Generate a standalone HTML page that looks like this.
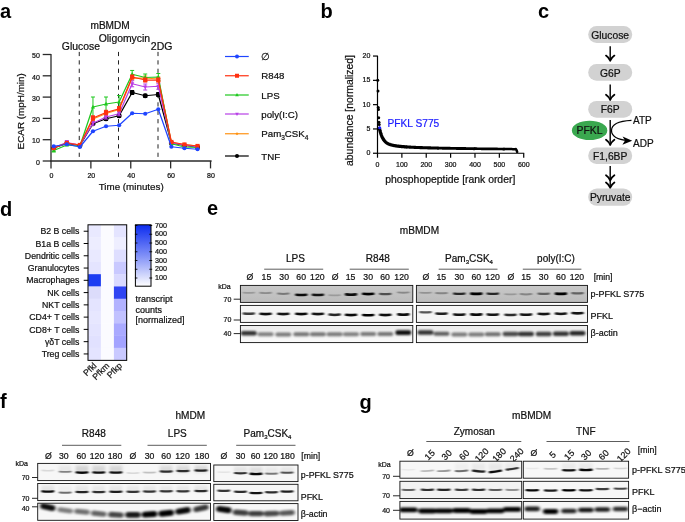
<!DOCTYPE html>
<html><head><meta charset="utf-8"><title>Figure</title>
<style>html,body{margin:0;padding:0;background:#fff;}body{width:685px;height:522px;overflow:hidden;font-family:"Liberation Sans", Arial, sans-serif;}svg{display:block}</style>
</head><body>
<svg width="685" height="522" viewBox="0 0 685 522" font-family='"Liberation Sans", Arial, sans-serif'><text x="0.00" y="17.50" font-size="20" text-anchor="start" font-weight="bold" fill="#000" stroke="#000" stroke-width="0" >a</text>
<text x="320.50" y="17.70" font-size="20" text-anchor="start" font-weight="bold" fill="#000" stroke="#000" stroke-width="0" >b</text>
<text x="538.00" y="17.60" font-size="20" text-anchor="start" font-weight="bold" fill="#000" stroke="#000" stroke-width="0" >c</text>
<text x="0.00" y="215.50" font-size="20" text-anchor="start" font-weight="bold" fill="#000" stroke="#000" stroke-width="0" >d</text>
<text x="207.00" y="214.70" font-size="20" text-anchor="start" font-weight="bold" fill="#000" stroke="#000" stroke-width="0" >e</text>
<text x="0.00" y="408.00" font-size="20" text-anchor="start" font-weight="bold" fill="#000" stroke="#000" stroke-width="0" >f</text>
<text x="359.50" y="409.00" font-size="20" text-anchor="start" font-weight="bold" fill="#000" stroke="#000" stroke-width="0" >g</text>
<line x1="51.00" y1="54.00" x2="51.00" y2="161.60" stroke="#2a2a2a" stroke-width="1.3" />
<line x1="50.40" y1="161.00" x2="211.60" y2="161.00" stroke="#2a2a2a" stroke-width="1.3" />
<line x1="42.70" y1="161.00" x2="51.00" y2="161.00" stroke="#2a2a2a" stroke-width="1.3" />
<text x="39.90" y="164.70" font-size="7.0" text-anchor="end" font-weight="normal" fill="#111" stroke="#111" stroke-width="0.22" >0</text>
<line x1="42.70" y1="139.70" x2="51.00" y2="139.70" stroke="#2a2a2a" stroke-width="1.3" />
<text x="39.90" y="143.40" font-size="7.0" text-anchor="end" font-weight="normal" fill="#111" stroke="#111" stroke-width="0.22" >10</text>
<line x1="42.70" y1="118.40" x2="51.00" y2="118.40" stroke="#2a2a2a" stroke-width="1.3" />
<text x="39.90" y="122.10" font-size="7.0" text-anchor="end" font-weight="normal" fill="#111" stroke="#111" stroke-width="0.22" >20</text>
<line x1="42.70" y1="97.10" x2="51.00" y2="97.10" stroke="#2a2a2a" stroke-width="1.3" />
<text x="39.90" y="100.80" font-size="7.0" text-anchor="end" font-weight="normal" fill="#111" stroke="#111" stroke-width="0.22" >30</text>
<line x1="42.70" y1="75.80" x2="51.00" y2="75.80" stroke="#2a2a2a" stroke-width="1.3" />
<text x="39.90" y="79.50" font-size="7.0" text-anchor="end" font-weight="normal" fill="#111" stroke="#111" stroke-width="0.22" >40</text>
<line x1="42.70" y1="54.50" x2="51.00" y2="54.50" stroke="#2a2a2a" stroke-width="1.3" />
<text x="39.90" y="58.20" font-size="7.0" text-anchor="end" font-weight="normal" fill="#111" stroke="#111" stroke-width="0.22" >50</text>
<line x1="51.00" y1="161.00" x2="51.00" y2="168.40" stroke="#2a2a2a" stroke-width="1.3" />
<text x="51.40" y="178.30" font-size="7.0" text-anchor="middle" font-weight="normal" fill="#111" stroke="#111" stroke-width="0.22" >0</text>
<line x1="90.88" y1="161.00" x2="90.88" y2="168.40" stroke="#2a2a2a" stroke-width="1.3" />
<text x="91.28" y="178.30" font-size="7.0" text-anchor="middle" font-weight="normal" fill="#111" stroke="#111" stroke-width="0.22" >20</text>
<line x1="130.76" y1="161.00" x2="130.76" y2="168.40" stroke="#2a2a2a" stroke-width="1.3" />
<text x="131.16" y="178.30" font-size="7.0" text-anchor="middle" font-weight="normal" fill="#111" stroke="#111" stroke-width="0.22" >40</text>
<line x1="170.64" y1="161.00" x2="170.64" y2="168.40" stroke="#2a2a2a" stroke-width="1.3" />
<text x="171.04" y="178.30" font-size="7.0" text-anchor="middle" font-weight="normal" fill="#111" stroke="#111" stroke-width="0.22" >60</text>
<line x1="210.52" y1="161.00" x2="210.52" y2="168.40" stroke="#2a2a2a" stroke-width="1.3" />
<text x="210.92" y="178.30" font-size="7.0" text-anchor="middle" font-weight="normal" fill="#111" stroke="#111" stroke-width="0.22" >80</text>
<text x="131.20" y="189.50" font-size="9.8" text-anchor="middle" font-weight="normal" fill="#111" stroke="#111" stroke-width="0.22" >Time (minutes)</text>
<text transform="translate(24.0,111.3) rotate(-90)" font-size="9.9" text-anchor="middle" fill="#111" stroke="#111" stroke-width="0.22">ECAR (mpH/min)</text>
<text x="110.10" y="29.40" font-size="10.1" text-anchor="middle" font-weight="normal" fill="#111" stroke="#111" stroke-width="0.22" >mBMDM</text>
<text x="61.80" y="49.50" font-size="10.4" text-anchor="start" font-weight="normal" fill="#111" stroke="#111" stroke-width="0.22" >Glucose</text>
<text x="98.70" y="41.50" font-size="10.4" text-anchor="start" font-weight="normal" fill="#111" stroke="#111" stroke-width="0.22" >Oligomycin</text>
<text x="150.80" y="49.50" font-size="10.5" text-anchor="start" font-weight="normal" fill="#111" stroke="#111" stroke-width="0.22" >2DG</text>
<line x1="79.25" y1="51.90" x2="79.25" y2="160.00" stroke="#222" stroke-width="1.0" stroke-dasharray="4.2 4.2"/>
<line x1="118.50" y1="51.90" x2="118.50" y2="160.00" stroke="#222" stroke-width="1.0" stroke-dasharray="4.2 4.2"/>
<line x1="158.00" y1="51.90" x2="158.00" y2="160.00" stroke="#222" stroke-width="1.0" stroke-dasharray="4.2 4.2"/>
<line x1="92.96" y1="122.25" x2="92.96" y2="125.25" stroke="#000" stroke-width="1.0" />
<line x1="90.96" y1="122.25" x2="94.96" y2="122.25" stroke="#000" stroke-width="1.0" />
<line x1="90.96" y1="125.25" x2="94.96" y2="125.25" stroke="#000" stroke-width="1.0" />
<line x1="106.03" y1="117.25" x2="106.03" y2="120.25" stroke="#000" stroke-width="1.0" />
<line x1="104.03" y1="117.25" x2="108.03" y2="117.25" stroke="#000" stroke-width="1.0" />
<line x1="104.03" y1="120.25" x2="108.03" y2="120.25" stroke="#000" stroke-width="1.0" />
<line x1="119.10" y1="114.25" x2="119.10" y2="117.25" stroke="#000" stroke-width="1.0" />
<line x1="117.10" y1="114.25" x2="121.10" y2="114.25" stroke="#000" stroke-width="1.0" />
<line x1="117.10" y1="117.25" x2="121.10" y2="117.25" stroke="#000" stroke-width="1.0" />
<line x1="132.17" y1="90.50" x2="132.17" y2="94.50" stroke="#000" stroke-width="1.0" />
<line x1="130.17" y1="90.50" x2="134.17" y2="90.50" stroke="#000" stroke-width="1.0" />
<line x1="130.17" y1="94.50" x2="134.17" y2="94.50" stroke="#000" stroke-width="1.0" />
<line x1="145.24" y1="94.25" x2="145.24" y2="97.25" stroke="#000" stroke-width="1.0" />
<line x1="143.24" y1="94.25" x2="147.24" y2="94.25" stroke="#000" stroke-width="1.0" />
<line x1="143.24" y1="97.25" x2="147.24" y2="97.25" stroke="#000" stroke-width="1.0" />
<line x1="158.31" y1="92.50" x2="158.31" y2="96.50" stroke="#000" stroke-width="1.0" />
<line x1="156.31" y1="92.50" x2="160.31" y2="92.50" stroke="#000" stroke-width="1.0" />
<line x1="156.31" y1="96.50" x2="160.31" y2="96.50" stroke="#000" stroke-width="1.0" />
<polyline points="53.75,148.00 66.82,143.50 79.89,145.50 92.96,123.75 106.03,118.75 119.10,115.75 132.17,92.50 145.24,95.75 158.31,94.50 171.38,143.00 184.45,145.50 197.52,147.00" fill="none" stroke="#000" stroke-width="1.25" stroke-linejoin="round"/>
<circle cx="53.75" cy="148.00" r="2.5" fill="#000"/>
<circle cx="66.82" cy="143.50" r="2.5" fill="#000"/>
<circle cx="79.89" cy="145.50" r="2.5" fill="#000"/>
<circle cx="92.96" cy="123.75" r="2.5" fill="#000"/>
<circle cx="106.03" cy="118.75" r="2.5" fill="#000"/>
<circle cx="119.10" cy="115.75" r="2.5" fill="#000"/>
<circle cx="132.17" cy="92.50" r="2.5" fill="#000"/>
<circle cx="145.24" cy="95.75" r="2.5" fill="#000"/>
<circle cx="158.31" cy="94.50" r="2.5" fill="#000"/>
<circle cx="171.38" cy="143.00" r="2.5" fill="#000"/>
<circle cx="184.45" cy="145.50" r="2.5" fill="#000"/>
<circle cx="197.52" cy="147.00" r="2.5" fill="#000"/>
<line x1="92.96" y1="117.00" x2="92.96" y2="121.00" stroke="#ff9212" stroke-width="1.0" />
<line x1="90.96" y1="117.00" x2="94.96" y2="117.00" stroke="#ff9212" stroke-width="1.0" />
<line x1="90.96" y1="121.00" x2="94.96" y2="121.00" stroke="#ff9212" stroke-width="1.0" />
<line x1="106.03" y1="111.50" x2="106.03" y2="115.50" stroke="#ff9212" stroke-width="1.0" />
<line x1="104.03" y1="111.50" x2="108.03" y2="111.50" stroke="#ff9212" stroke-width="1.0" />
<line x1="104.03" y1="115.50" x2="108.03" y2="115.50" stroke="#ff9212" stroke-width="1.0" />
<line x1="119.10" y1="107.50" x2="119.10" y2="111.50" stroke="#ff9212" stroke-width="1.0" />
<line x1="117.10" y1="107.50" x2="121.10" y2="107.50" stroke="#ff9212" stroke-width="1.0" />
<line x1="117.10" y1="111.50" x2="121.10" y2="111.50" stroke="#ff9212" stroke-width="1.0" />
<line x1="132.17" y1="76.00" x2="132.17" y2="80.00" stroke="#ff9212" stroke-width="1.0" />
<line x1="130.17" y1="76.00" x2="134.17" y2="76.00" stroke="#ff9212" stroke-width="1.0" />
<line x1="130.17" y1="80.00" x2="134.17" y2="80.00" stroke="#ff9212" stroke-width="1.0" />
<line x1="145.24" y1="76.00" x2="145.24" y2="80.00" stroke="#ff9212" stroke-width="1.0" />
<line x1="143.24" y1="76.00" x2="147.24" y2="76.00" stroke="#ff9212" stroke-width="1.0" />
<line x1="143.24" y1="80.00" x2="147.24" y2="80.00" stroke="#ff9212" stroke-width="1.0" />
<line x1="158.31" y1="77.00" x2="158.31" y2="81.00" stroke="#ff9212" stroke-width="1.0" />
<line x1="156.31" y1="77.00" x2="160.31" y2="77.00" stroke="#ff9212" stroke-width="1.0" />
<line x1="156.31" y1="81.00" x2="160.31" y2="81.00" stroke="#ff9212" stroke-width="1.0" />
<polyline points="53.75,147.50 66.82,143.00 79.89,145.00 92.96,119.00 106.03,113.50 119.10,109.50 132.17,78.00 145.24,78.00 158.31,79.00 171.38,142.50 184.45,144.50 197.52,146.00" fill="none" stroke="#ff9212" stroke-width="1.25" stroke-linejoin="round"/>
<polygon points="53.75,145.60 51.85,147.50 53.75,149.40 55.65,147.50" fill="#ff9212"/>
<polygon points="66.82,141.10 64.92,143.00 66.82,144.90 68.72,143.00" fill="#ff9212"/>
<polygon points="79.89,143.10 77.99,145.00 79.89,146.90 81.79,145.00" fill="#ff9212"/>
<polygon points="92.96,117.10 91.06,119.00 92.96,120.90 94.86,119.00" fill="#ff9212"/>
<polygon points="106.03,111.60 104.13,113.50 106.03,115.40 107.93,113.50" fill="#ff9212"/>
<polygon points="119.10,107.60 117.20,109.50 119.10,111.40 121.00,109.50" fill="#ff9212"/>
<polygon points="132.17,76.10 130.27,78.00 132.17,79.90 134.07,78.00" fill="#ff9212"/>
<polygon points="145.24,76.10 143.34,78.00 145.24,79.90 147.14,78.00" fill="#ff9212"/>
<polygon points="158.31,77.10 156.41,79.00 158.31,80.90 160.21,79.00" fill="#ff9212"/>
<polygon points="171.38,140.60 169.48,142.50 171.38,144.40 173.28,142.50" fill="#ff9212"/>
<polygon points="184.45,142.60 182.55,144.50 184.45,146.40 186.35,144.50" fill="#ff9212"/>
<polygon points="197.52,144.10 195.62,146.00 197.52,147.90 199.42,146.00" fill="#ff9212"/>
<line x1="66.82" y1="140.50" x2="66.82" y2="144.50" stroke="#b83fe6" stroke-width="1.0" />
<line x1="64.82" y1="140.50" x2="68.82" y2="140.50" stroke="#b83fe6" stroke-width="1.0" />
<line x1="64.82" y1="144.50" x2="68.82" y2="144.50" stroke="#b83fe6" stroke-width="1.0" />
<line x1="92.96" y1="121.25" x2="92.96" y2="125.25" stroke="#b83fe6" stroke-width="1.0" />
<line x1="90.96" y1="121.25" x2="94.96" y2="121.25" stroke="#b83fe6" stroke-width="1.0" />
<line x1="90.96" y1="125.25" x2="94.96" y2="125.25" stroke="#b83fe6" stroke-width="1.0" />
<line x1="106.03" y1="115.00" x2="106.03" y2="119.00" stroke="#b83fe6" stroke-width="1.0" />
<line x1="104.03" y1="115.00" x2="108.03" y2="115.00" stroke="#b83fe6" stroke-width="1.0" />
<line x1="104.03" y1="119.00" x2="108.03" y2="119.00" stroke="#b83fe6" stroke-width="1.0" />
<line x1="119.10" y1="111.75" x2="119.10" y2="115.75" stroke="#b83fe6" stroke-width="1.0" />
<line x1="117.10" y1="111.75" x2="121.10" y2="111.75" stroke="#b83fe6" stroke-width="1.0" />
<line x1="117.10" y1="115.75" x2="121.10" y2="115.75" stroke="#b83fe6" stroke-width="1.0" />
<line x1="132.17" y1="80.75" x2="132.17" y2="86.75" stroke="#b83fe6" stroke-width="1.0" />
<line x1="130.17" y1="80.75" x2="134.17" y2="80.75" stroke="#b83fe6" stroke-width="1.0" />
<line x1="130.17" y1="86.75" x2="134.17" y2="86.75" stroke="#b83fe6" stroke-width="1.0" />
<line x1="145.24" y1="84.00" x2="145.24" y2="90.00" stroke="#b83fe6" stroke-width="1.0" />
<line x1="143.24" y1="84.00" x2="147.24" y2="84.00" stroke="#b83fe6" stroke-width="1.0" />
<line x1="143.24" y1="90.00" x2="147.24" y2="90.00" stroke="#b83fe6" stroke-width="1.0" />
<line x1="158.31" y1="83.25" x2="158.31" y2="89.25" stroke="#b83fe6" stroke-width="1.0" />
<line x1="156.31" y1="83.25" x2="160.31" y2="83.25" stroke="#b83fe6" stroke-width="1.0" />
<line x1="156.31" y1="89.25" x2="160.31" y2="89.25" stroke="#b83fe6" stroke-width="1.0" />
<polyline points="53.75,147.50 66.82,142.50 79.89,145.00 92.96,123.25 106.03,117.00 119.10,113.75 132.17,83.75 145.24,87.00 158.31,86.25 171.38,143.00 184.45,145.00 197.52,147.00" fill="none" stroke="#b83fe6" stroke-width="1.25" stroke-linejoin="round"/>
<polygon points="53.75,149.70 51.65,145.90 55.85,145.90" fill="#b83fe6"/>
<polygon points="66.82,144.70 64.72,140.90 68.92,140.90" fill="#b83fe6"/>
<polygon points="79.89,147.20 77.79,143.40 81.99,143.40" fill="#b83fe6"/>
<polygon points="92.96,125.45 90.86,121.65 95.06,121.65" fill="#b83fe6"/>
<polygon points="106.03,119.20 103.93,115.40 108.13,115.40" fill="#b83fe6"/>
<polygon points="119.10,115.95 117.00,112.15 121.20,112.15" fill="#b83fe6"/>
<polygon points="132.17,85.95 130.07,82.15 134.27,82.15" fill="#b83fe6"/>
<polygon points="145.24,89.20 143.14,85.40 147.34,85.40" fill="#b83fe6"/>
<polygon points="158.31,88.45 156.21,84.65 160.41,84.65" fill="#b83fe6"/>
<polygon points="171.38,145.20 169.28,141.40 173.48,141.40" fill="#b83fe6"/>
<polygon points="184.45,147.20 182.35,143.40 186.55,143.40" fill="#b83fe6"/>
<polygon points="197.52,149.20 195.42,145.40 199.62,145.40" fill="#b83fe6"/>
<line x1="53.75" y1="149.00" x2="53.75" y2="152.00" stroke="#1fc81f" stroke-width="1.0" />
<line x1="51.75" y1="149.00" x2="55.75" y2="149.00" stroke="#1fc81f" stroke-width="1.0" />
<line x1="51.75" y1="152.00" x2="55.75" y2="152.00" stroke="#1fc81f" stroke-width="1.0" />
<line x1="92.96" y1="97.00" x2="92.96" y2="117.00" stroke="#1fc81f" stroke-width="1.0" />
<line x1="90.96" y1="97.00" x2="94.96" y2="97.00" stroke="#1fc81f" stroke-width="1.0" />
<line x1="90.96" y1="117.00" x2="94.96" y2="117.00" stroke="#1fc81f" stroke-width="1.0" />
<line x1="106.03" y1="97.00" x2="106.03" y2="111.00" stroke="#1fc81f" stroke-width="1.0" />
<line x1="104.03" y1="97.00" x2="108.03" y2="97.00" stroke="#1fc81f" stroke-width="1.0" />
<line x1="104.03" y1="111.00" x2="108.03" y2="111.00" stroke="#1fc81f" stroke-width="1.0" />
<line x1="119.10" y1="95.50" x2="119.10" y2="108.50" stroke="#1fc81f" stroke-width="1.0" />
<line x1="117.10" y1="95.50" x2="121.10" y2="95.50" stroke="#1fc81f" stroke-width="1.0" />
<line x1="117.10" y1="108.50" x2="121.10" y2="108.50" stroke="#1fc81f" stroke-width="1.0" />
<line x1="132.17" y1="70.45" x2="132.17" y2="78.05" stroke="#1fc81f" stroke-width="1.0" />
<line x1="130.17" y1="70.45" x2="134.17" y2="70.45" stroke="#1fc81f" stroke-width="1.0" />
<line x1="130.17" y1="78.05" x2="134.17" y2="78.05" stroke="#1fc81f" stroke-width="1.0" />
<line x1="145.24" y1="74.00" x2="145.24" y2="81.00" stroke="#1fc81f" stroke-width="1.0" />
<line x1="143.24" y1="74.00" x2="147.24" y2="74.00" stroke="#1fc81f" stroke-width="1.0" />
<line x1="143.24" y1="81.00" x2="147.24" y2="81.00" stroke="#1fc81f" stroke-width="1.0" />
<line x1="158.31" y1="73.50" x2="158.31" y2="80.50" stroke="#1fc81f" stroke-width="1.0" />
<line x1="156.31" y1="73.50" x2="160.31" y2="73.50" stroke="#1fc81f" stroke-width="1.0" />
<line x1="156.31" y1="80.50" x2="160.31" y2="80.50" stroke="#1fc81f" stroke-width="1.0" />
<polyline points="53.75,150.50 66.82,145.00 79.89,146.25 92.96,107.00 106.03,104.00 119.10,102.00 132.17,74.25 145.24,77.50 158.31,77.00 171.38,143.75 184.45,147.00 197.52,147.50" fill="none" stroke="#1fc81f" stroke-width="1.25" stroke-linejoin="round"/>
<polygon points="53.75,148.30 51.65,152.10 55.85,152.10" fill="#1fc81f"/>
<polygon points="66.82,142.80 64.72,146.60 68.92,146.60" fill="#1fc81f"/>
<polygon points="79.89,144.05 77.79,147.85 81.99,147.85" fill="#1fc81f"/>
<polygon points="92.96,104.80 90.86,108.60 95.06,108.60" fill="#1fc81f"/>
<polygon points="106.03,101.80 103.93,105.60 108.13,105.60" fill="#1fc81f"/>
<polygon points="119.10,99.80 117.00,103.60 121.20,103.60" fill="#1fc81f"/>
<polygon points="132.17,72.05 130.07,75.85 134.27,75.85" fill="#1fc81f"/>
<polygon points="145.24,75.30 143.14,79.10 147.34,79.10" fill="#1fc81f"/>
<polygon points="158.31,74.80 156.21,78.60 160.41,78.60" fill="#1fc81f"/>
<polygon points="171.38,141.55 169.28,145.35 173.48,145.35" fill="#1fc81f"/>
<polygon points="184.45,144.80 182.35,148.60 186.55,148.60" fill="#1fc81f"/>
<polygon points="197.52,145.30 195.42,149.10 199.62,149.10" fill="#1fc81f"/>
<line x1="92.96" y1="115.80" x2="92.96" y2="120.20" stroke="#ff3010" stroke-width="1.0" />
<line x1="90.96" y1="115.80" x2="94.96" y2="115.80" stroke="#ff3010" stroke-width="1.0" />
<line x1="90.96" y1="120.20" x2="94.96" y2="120.20" stroke="#ff3010" stroke-width="1.0" />
<line x1="106.03" y1="110.30" x2="106.03" y2="114.70" stroke="#ff3010" stroke-width="1.0" />
<line x1="104.03" y1="110.30" x2="108.03" y2="110.30" stroke="#ff3010" stroke-width="1.0" />
<line x1="104.03" y1="114.70" x2="108.03" y2="114.70" stroke="#ff3010" stroke-width="1.0" />
<line x1="119.10" y1="106.55" x2="119.10" y2="110.95" stroke="#ff3010" stroke-width="1.0" />
<line x1="117.10" y1="106.55" x2="121.10" y2="106.55" stroke="#ff3010" stroke-width="1.0" />
<line x1="117.10" y1="110.95" x2="121.10" y2="110.95" stroke="#ff3010" stroke-width="1.0" />
<line x1="132.17" y1="75.00" x2="132.17" y2="79.00" stroke="#ff3010" stroke-width="1.0" />
<line x1="130.17" y1="75.00" x2="134.17" y2="75.00" stroke="#ff3010" stroke-width="1.0" />
<line x1="130.17" y1="79.00" x2="134.17" y2="79.00" stroke="#ff3010" stroke-width="1.0" />
<line x1="145.24" y1="78.00" x2="145.24" y2="82.00" stroke="#ff3010" stroke-width="1.0" />
<line x1="143.24" y1="78.00" x2="147.24" y2="78.00" stroke="#ff3010" stroke-width="1.0" />
<line x1="143.24" y1="82.00" x2="147.24" y2="82.00" stroke="#ff3010" stroke-width="1.0" />
<line x1="158.31" y1="78.00" x2="158.31" y2="82.00" stroke="#ff3010" stroke-width="1.0" />
<line x1="156.31" y1="78.00" x2="160.31" y2="78.00" stroke="#ff3010" stroke-width="1.0" />
<line x1="156.31" y1="82.00" x2="160.31" y2="82.00" stroke="#ff3010" stroke-width="1.0" />
<polyline points="53.75,148.00 66.82,143.00 79.89,145.00 92.96,118.00 106.03,112.50 119.10,108.75 132.17,77.00 145.24,80.00 158.31,80.00 171.38,142.00 184.45,144.50 197.52,146.00" fill="none" stroke="#ff3010" stroke-width="1.25" stroke-linejoin="round"/>
<rect x="51.65" y="145.90" width="4.2" height="4.2" fill="#ff3010"/>
<rect x="64.72" y="140.90" width="4.2" height="4.2" fill="#ff3010"/>
<rect x="77.79" y="142.90" width="4.2" height="4.2" fill="#ff3010"/>
<rect x="90.86" y="115.90" width="4.2" height="4.2" fill="#ff3010"/>
<rect x="103.93" y="110.40" width="4.2" height="4.2" fill="#ff3010"/>
<rect x="117.00" y="106.65" width="4.2" height="4.2" fill="#ff3010"/>
<rect x="130.07" y="74.90" width="4.2" height="4.2" fill="#ff3010"/>
<rect x="143.14" y="77.90" width="4.2" height="4.2" fill="#ff3010"/>
<rect x="156.21" y="77.90" width="4.2" height="4.2" fill="#ff3010"/>
<rect x="169.28" y="139.90" width="4.2" height="4.2" fill="#ff3010"/>
<rect x="182.35" y="142.40" width="4.2" height="4.2" fill="#ff3010"/>
<rect x="195.42" y="143.90" width="4.2" height="4.2" fill="#ff3010"/>
<polyline points="53.75,146.25 66.82,144.25 79.89,147.00 92.96,131.25 106.03,126.25 119.10,125.25 132.17,113.25 145.24,113.75 158.31,109.25 171.38,146.75 184.45,148.25 197.52,149.25" fill="none" stroke="#1f45ff" stroke-width="1.25" stroke-linejoin="round"/>
<circle cx="53.75" cy="146.25" r="2.1" fill="#1f45ff"/>
<circle cx="66.82" cy="144.25" r="2.1" fill="#1f45ff"/>
<circle cx="79.89" cy="147.00" r="2.1" fill="#1f45ff"/>
<circle cx="92.96" cy="131.25" r="2.1" fill="#1f45ff"/>
<circle cx="106.03" cy="126.25" r="2.1" fill="#1f45ff"/>
<circle cx="119.10" cy="125.25" r="2.1" fill="#1f45ff"/>
<circle cx="132.17" cy="113.25" r="2.1" fill="#1f45ff"/>
<circle cx="145.24" cy="113.75" r="2.1" fill="#1f45ff"/>
<circle cx="158.31" cy="109.25" r="2.1" fill="#1f45ff"/>
<circle cx="171.38" cy="146.75" r="2.1" fill="#1f45ff"/>
<circle cx="184.45" cy="148.25" r="2.1" fill="#1f45ff"/>
<circle cx="197.52" cy="149.25" r="2.1" fill="#1f45ff"/>
<line x1="225.00" y1="56.50" x2="248.75" y2="56.50" stroke="#1f45ff" stroke-width="1.2" />
<circle cx="237.00" cy="56.50" r="2.0" fill="#1f45ff"/>
<text x="261.30" y="60.10" font-size="9.7" text-anchor="start" font-weight="normal" fill="#111" stroke="#111" stroke-width="0.22" >∅</text>
<line x1="225.00" y1="75.75" x2="248.75" y2="75.75" stroke="#ff3010" stroke-width="1.2" />
<rect x="235.00" y="73.75" width="4.0" height="4.0" fill="#ff3010"/>
<text x="261.30" y="79.35" font-size="9.7" text-anchor="start" font-weight="normal" fill="#111" stroke="#111" stroke-width="0.22" >R848</text>
<line x1="225.00" y1="95.00" x2="248.75" y2="95.00" stroke="#1fc81f" stroke-width="1.2" />
<polygon points="237.00,93.10 235.20,96.30 238.80,96.30" fill="#1fc81f"/>
<text x="261.30" y="98.60" font-size="9.7" text-anchor="start" font-weight="normal" fill="#111" stroke="#111" stroke-width="0.22" >LPS</text>
<line x1="225.00" y1="114.00" x2="248.75" y2="114.00" stroke="#b83fe6" stroke-width="1.2" />
<polygon points="237.00,115.90 235.20,112.70 238.80,112.70" fill="#b83fe6"/>
<text x="261.30" y="117.60" font-size="9.7" text-anchor="start" font-weight="normal" fill="#111" stroke="#111" stroke-width="0.22" >poly(I:C)</text>
<line x1="225.00" y1="133.75" x2="248.75" y2="133.75" stroke="#ff9212" stroke-width="1.2" />
<polygon points="237.00,132.15 235.40,133.75 237.00,135.35 238.60,133.75" fill="#ff9212"/>
<text x="261.30" y="137.35" font-size="9.7" text-anchor="start" font-weight="normal" fill="#111" stroke="#111" stroke-width="0.22" >Pam<tspan font-size="6.5" dy="2.2">3</tspan><tspan dy="-2.2">CSK</tspan><tspan font-size="6.5" dy="2.2">4</tspan></text>
<line x1="225.00" y1="156.00" x2="248.75" y2="156.00" stroke="#000" stroke-width="1.2" />
<circle cx="237.00" cy="156.00" r="2.0" fill="#000"/>
<text x="261.30" y="159.60" font-size="9.7" text-anchor="start" font-weight="normal" fill="#111" stroke="#111" stroke-width="0.22" >TNF</text>
<line x1="377.50" y1="55.70" x2="377.50" y2="153.75" stroke="#000" stroke-width="1.2" />
<line x1="377.00" y1="153.25" x2="524.20" y2="153.25" stroke="#000" stroke-width="1.2" />
<line x1="373.00" y1="153.25" x2="377.50" y2="153.25" stroke="#000" stroke-width="1.2" />
<text x="370.30" y="155.15" font-size="7.0" text-anchor="end" font-weight="normal" fill="#111" stroke="#111" stroke-width="0.22" >0</text>
<line x1="373.00" y1="128.95" x2="377.50" y2="128.95" stroke="#000" stroke-width="1.2" />
<text x="370.30" y="130.85" font-size="7.0" text-anchor="end" font-weight="normal" fill="#111" stroke="#111" stroke-width="0.22" >5</text>
<line x1="373.00" y1="104.65" x2="377.50" y2="104.65" stroke="#000" stroke-width="1.2" />
<text x="370.30" y="106.55" font-size="7.0" text-anchor="end" font-weight="normal" fill="#111" stroke="#111" stroke-width="0.22" >10</text>
<line x1="373.00" y1="80.35" x2="377.50" y2="80.35" stroke="#000" stroke-width="1.2" />
<text x="370.30" y="82.25" font-size="7.0" text-anchor="end" font-weight="normal" fill="#111" stroke="#111" stroke-width="0.22" >15</text>
<line x1="373.00" y1="56.05" x2="377.50" y2="56.05" stroke="#000" stroke-width="1.2" />
<text x="370.30" y="57.95" font-size="7.0" text-anchor="end" font-weight="normal" fill="#111" stroke="#111" stroke-width="0.22" >20</text>
<line x1="377.50" y1="153.25" x2="377.50" y2="157.75" stroke="#000" stroke-width="1.2" />
<text x="377.50" y="166.85" font-size="7.0" text-anchor="middle" font-weight="normal" fill="#111" stroke="#111" stroke-width="0.22" >0</text>
<line x1="401.87" y1="153.25" x2="401.87" y2="157.75" stroke="#000" stroke-width="1.2" />
<text x="401.87" y="166.85" font-size="7.0" text-anchor="middle" font-weight="normal" fill="#111" stroke="#111" stroke-width="0.22" >100</text>
<line x1="426.24" y1="153.25" x2="426.24" y2="157.75" stroke="#000" stroke-width="1.2" />
<text x="426.24" y="166.85" font-size="7.0" text-anchor="middle" font-weight="normal" fill="#111" stroke="#111" stroke-width="0.22" >200</text>
<line x1="450.61" y1="153.25" x2="450.61" y2="157.75" stroke="#000" stroke-width="1.2" />
<text x="450.61" y="166.85" font-size="7.0" text-anchor="middle" font-weight="normal" fill="#111" stroke="#111" stroke-width="0.22" >300</text>
<line x1="474.98" y1="153.25" x2="474.98" y2="157.75" stroke="#000" stroke-width="1.2" />
<text x="474.98" y="166.85" font-size="7.0" text-anchor="middle" font-weight="normal" fill="#111" stroke="#111" stroke-width="0.22" >400</text>
<line x1="499.35" y1="153.25" x2="499.35" y2="157.75" stroke="#000" stroke-width="1.2" />
<text x="499.35" y="166.85" font-size="7.0" text-anchor="middle" font-weight="normal" fill="#111" stroke="#111" stroke-width="0.22" >500</text>
<line x1="523.72" y1="153.25" x2="523.72" y2="157.75" stroke="#000" stroke-width="1.2" />
<text x="523.72" y="166.85" font-size="7.0" text-anchor="middle" font-weight="normal" fill="#111" stroke="#111" stroke-width="0.22" >600</text>
<text x="450.30" y="182.50" font-size="10.4" text-anchor="middle" font-weight="normal" fill="#111" stroke="#111" stroke-width="0.22" >phosphopeptide [rank order]</text>
<text transform="translate(353.2,110.5) rotate(-90)" font-size="10.4" text-anchor="middle" fill="#111" stroke="#111" stroke-width="0.22">abundance [normalized]</text>
<text x="387.50" y="127.00" font-size="10.2" text-anchor="start" font-weight="normal" fill="#1c1cff" stroke="#1c1cff" stroke-width="0.22" >PFKL S775</text>
<polyline points="379.45,128.46 379.94,130.51 380.42,132.30 380.91,133.87 381.40,135.25 381.89,136.45 382.37,137.51 382.86,138.44 383.35,139.27 383.84,139.99 384.32,140.63 384.81,141.20 385.30,141.70 385.79,142.15 386.27,142.55 386.76,142.90 387.25,143.22 387.74,143.51 388.22,143.76 388.71,144.00 389.20,144.21 389.69,144.40 390.17,144.58 390.66,144.74 391.15,144.88 391.63,145.02 392.12,145.14 392.61,145.26 393.10,145.37 393.58,145.47 394.07,145.56 394.56,145.65 395.05,145.73 395.53,145.81 396.02,145.89 396.51,145.96 397.00,146.02 397.48,146.09 397.97,146.15 398.46,146.21 398.95,146.26 399.43,146.31 399.92,146.37 400.41,146.42 400.90,146.46 401.38,146.51 401.87,146.55 402.36,146.60 402.84,146.64 403.33,146.68 403.82,146.72 404.31,146.76 404.79,146.79 405.28,146.83 405.77,146.86 406.26,146.90" fill="none" stroke="#000" stroke-width="3.3" stroke-linecap="round" stroke-linejoin="round"/>
<polyline points="406.74,146.93 407.23,146.96 407.72,146.99 408.21,147.02 408.69,147.05 409.18,147.08 409.67,147.11 410.16,147.14 410.64,147.17 411.13,147.19 411.62,147.22 412.11,147.24 412.59,147.27 413.08,147.29 413.57,147.32 414.06,147.34 414.54,147.36 415.03,147.38 415.52,147.41 416.00,147.43 416.49,147.45 416.98,147.47 417.47,147.49 417.95,147.51 418.44,147.53 418.93,147.55 419.42,147.56 419.90,147.58 420.39,147.60 420.88,147.62 421.37,147.63 421.85,147.65 422.34,147.67 422.83,147.68 423.32,147.70 423.80,147.72 424.29,147.73 424.78,147.75 425.27,147.76 425.75,147.78 426.24,147.79 426.73,147.81 427.21,147.82 427.70,147.83 428.19,147.85 428.68,147.86 429.16,147.88 429.65,147.89 430.14,147.90 430.63,147.91 431.11,147.93 431.60,147.94 432.09,147.95 432.58,147.96 433.06,147.98 433.55,147.99 434.04,148.00 434.53,148.01 435.01,148.02 435.50,148.03 435.99,148.04 436.48,148.06 436.96,148.07 437.45,148.08 437.94,148.09" fill="none" stroke="#000" stroke-width="3.1" stroke-linecap="round" stroke-linejoin="round"/>
<polyline points="438.43,148.10 438.91,148.11 439.40,148.12 439.89,148.13 440.37,148.14 440.86,148.15 441.35,148.16 441.84,148.17 442.32,148.18 442.81,148.19 443.30,148.20 443.79,148.21 444.27,148.22 444.76,148.23 445.25,148.24 445.74,148.25 446.22,148.25 446.71,148.26 447.20,148.27 447.69,148.28 448.17,148.29 448.66,148.30 449.15,148.31 449.64,148.32 450.12,148.32 450.61,148.33 451.10,148.34 451.58,148.35 452.07,148.36 452.56,148.37 453.05,148.38 453.53,148.38 454.02,148.39 454.51,148.40 455.00,148.41 455.48,148.42 455.97,148.42 456.46,148.43 456.95,148.44 457.43,148.45 457.92,148.45 458.41,148.46 458.90,148.47 459.38,148.48 459.87,148.48 460.36,148.49 460.85,148.50 461.33,148.51 461.82,148.51 462.31,148.52 462.80,148.53 463.28,148.54 463.77,148.54 464.26,148.55 464.74,148.56 465.23,148.56 465.72,148.57 466.21,148.58 466.69,148.59 467.18,148.59 467.67,148.60 468.16,148.61 468.64,148.61 469.13,148.62 469.62,148.63 470.11,148.63 470.59,148.64 471.08,148.65 471.57,148.65 472.06,148.66 472.54,148.67 473.03,148.67 473.52,148.68 474.01,148.69 474.49,148.69" fill="none" stroke="#000" stroke-width="2.9" stroke-linecap="round" stroke-linejoin="round"/>
<polyline points="474.98,148.70 475.47,148.71 475.95,148.71 476.44,148.72 476.93,148.72 477.42,148.73 477.90,148.74 478.39,148.74 478.88,148.75 479.37,148.76 479.85,148.76 480.34,148.77 480.83,148.77 481.32,148.78 481.80,148.79 482.29,148.79 482.78,148.80 483.27,148.81 483.75,148.81 484.24,148.82 484.73,148.82 485.22,148.83 485.70,148.83 486.19,148.84 486.68,148.85 487.17,148.85 487.65,148.86 488.14,148.86 488.63,148.87 489.11,148.88 489.60,148.88 490.09,148.89 490.58,148.89 491.06,148.90 491.55,148.90 492.04,148.91 492.53,148.92 493.01,148.92 493.50,148.93 493.99,148.93 494.48,148.94 494.96,148.94 495.45,148.95 495.94,148.95 496.43,148.96 496.91,148.96 497.40,148.97 497.89,148.98 498.38,148.98 498.86,148.99 499.35,148.99 499.84,149.00 500.32,149.00 500.81,149.01 501.30,149.01 501.79,149.02 502.27,149.02 502.76,149.03 503.25,149.03 503.74,149.04 504.22,149.04" fill="none" stroke="#000" stroke-width="2.7" stroke-linecap="round" stroke-linejoin="round"/>
<polyline points="503.74,149.04 504.22,149.04 504.71,149.05 505.20,149.05 505.69,149.06 506.17,149.06 506.66,149.07 507.15,149.07 507.64,149.08 508.12,149.08 508.61,149.09 509.10,149.09 509.59,149.10 510.07,149.10 510.56,149.11 511.05,149.11 511.53,149.12 512.02,149.12 512.51,149.13 513.00,149.13 513.48,149.14 513.97,149.14 514.46,149.15 514.95,149.15 515.92,149.12 516.65,150.33 517.14,151.79" fill="none" stroke="#000" stroke-width="2.5" stroke-linecap="round" stroke-linejoin="round"/>
<circle cx="379.45" cy="128.46" r="1.6" fill="#000"/>
<circle cx="377.74" cy="80.35" r="1.5" fill="#000"/>
<circle cx="377.99" cy="91.04" r="1.5" fill="#000"/>
<circle cx="378.23" cy="107.57" r="1.5" fill="#000"/>
<circle cx="378.47" cy="109.51" r="1.5" fill="#000"/>
<circle cx="378.72" cy="117.77" r="1.5" fill="#000"/>
<circle cx="378.96" cy="122.15" r="1.5" fill="#000"/>
<circle cx="379.21" cy="124.58" r="1.5" fill="#000"/>
<circle cx="379.69" cy="127.73" r="1.5" fill="#1c1cff"/>
<rect x="588.20" y="26.00" width="44" height="17.00" rx="8.50" fill="#d2d2d2"/>
<text x="610.20" y="38.60" font-size="10.3" text-anchor="middle" font-weight="normal" fill="#111" stroke="#111" stroke-width="0.22" >Glucose</text>
<rect x="588.20" y="64.00" width="44" height="16.80" rx="8.40" fill="#d2d2d2"/>
<text x="610.20" y="76.50" font-size="10.3" text-anchor="middle" font-weight="normal" fill="#111" stroke="#111" stroke-width="0.22" >G6P</text>
<rect x="588.20" y="100.90" width="44" height="16.80" rx="8.40" fill="#d2d2d2"/>
<text x="610.20" y="113.40" font-size="10.3" text-anchor="middle" font-weight="normal" fill="#111" stroke="#111" stroke-width="0.22" >F6P</text>
<rect x="588.20" y="147.40" width="44" height="16.60" rx="8.30" fill="#d2d2d2"/>
<text x="610.20" y="159.80" font-size="10.3" text-anchor="middle" font-weight="normal" fill="#111" stroke="#111" stroke-width="0.22" >F1,6BP</text>
<rect x="588.20" y="188.40" width="44" height="17.40" rx="8.70" fill="#d2d2d2"/>
<text x="610.20" y="201.20" font-size="10.3" text-anchor="middle" font-weight="normal" fill="#111" stroke="#111" stroke-width="0.22" >Pyruvate</text>
<line x1="610.20" y1="46.30" x2="610.20" y2="59.80" stroke="#000" stroke-width="1.4" />
<path d="M606.00,55.60 Q609.00,57.60 610.20,60.80 Q611.40,57.60 614.40,55.60" fill="none" stroke="#000" stroke-width="1.8" stroke-linecap="round" stroke-linejoin="round"/>
<line x1="610.20" y1="84.40" x2="610.20" y2="99.00" stroke="#000" stroke-width="1.4" />
<path d="M606.00,94.80 Q609.00,96.80 610.20,100.00 Q611.40,96.80 614.40,94.80" fill="none" stroke="#000" stroke-width="1.8" stroke-linecap="round" stroke-linejoin="round"/>
<line x1="610.20" y1="120.00" x2="610.20" y2="144.00" stroke="#000" stroke-width="1.4" />
<path d="M606.00,139.80 Q609.00,141.80 610.20,145.00 Q611.40,141.80 614.40,139.80" fill="none" stroke="#000" stroke-width="1.8" stroke-linecap="round" stroke-linejoin="round"/>
<line x1="610.20" y1="166.00" x2="610.20" y2="186.70" stroke="#000" stroke-width="1.4" />
<path d="M606.00,175.30 Q609.00,177.30 610.20,180.50 Q611.40,177.30 614.40,175.30" fill="none" stroke="#000" stroke-width="1.8" stroke-linecap="round" stroke-linejoin="round"/>
<path d="M606.00,182.50 Q609.00,184.50 610.20,187.70 Q611.40,184.50 614.40,182.50" fill="none" stroke="#000" stroke-width="1.8" stroke-linecap="round" stroke-linejoin="round"/>
<ellipse cx="589.6" cy="130.4" rx="17.7" ry="9.6" fill="#3aa84f"/>
<text x="589.60" y="134.20" font-size="10.4" text-anchor="middle" font-weight="normal" fill="#111" stroke="#111" stroke-width="0.22" >PFKL</text>
<path d="M631.5,120.3 C617,121 611.5,125 611.5,130.4 C611.5,136 617,139.5 628,140.4" fill="none" stroke="#000" stroke-width="1.2"/>
<polygon points="632.2,140.8 622.6,136.4 625.0,140.6 622.4,144.8" fill="#000"/>
<text x="633.00" y="123.80" font-size="10" text-anchor="start" font-weight="normal" fill="#111" stroke="#111" stroke-width="0.22" >ATP</text>
<text x="633.00" y="146.70" font-size="10" text-anchor="start" font-weight="normal" fill="#111" stroke="#111" stroke-width="0.22" >ADP</text>
<rect x="88.20" y="225.10" width="13.00" height="12.57" fill="#e9e9ff"/>
<rect x="88.20" y="237.37" width="13.00" height="12.57" fill="#ededff"/>
<rect x="88.20" y="249.64" width="13.00" height="12.57" fill="#e9e9ff"/>
<rect x="88.20" y="261.91" width="13.00" height="12.57" fill="#e4e4ff"/>
<rect x="88.20" y="274.18" width="13.00" height="12.57" fill="#1b3cf2"/>
<rect x="88.20" y="286.45" width="13.00" height="12.57" fill="#dcdcfb"/>
<rect x="88.20" y="298.72" width="13.00" height="12.57" fill="#e4e4ff"/>
<rect x="88.20" y="310.99" width="13.00" height="12.57" fill="#e7e7ff"/>
<rect x="88.20" y="323.26" width="13.00" height="12.57" fill="#e4e4ff"/>
<rect x="88.20" y="335.53" width="13.00" height="12.57" fill="#e1e1ff"/>
<rect x="88.20" y="347.80" width="13.00" height="12.57" fill="#e4e4ff"/>
<rect x="100.90" y="225.10" width="13.30" height="12.57" fill="#fbfbff"/>
<rect x="100.90" y="237.37" width="13.30" height="12.57" fill="#fbfbff"/>
<rect x="100.90" y="249.64" width="13.30" height="12.57" fill="#fbfbff"/>
<rect x="100.90" y="261.91" width="13.30" height="12.57" fill="#fbfbff"/>
<rect x="100.90" y="274.18" width="13.30" height="12.57" fill="#fbfbff"/>
<rect x="100.90" y="286.45" width="13.30" height="12.57" fill="#fbfbff"/>
<rect x="100.90" y="298.72" width="13.30" height="12.57" fill="#fbfbff"/>
<rect x="100.90" y="310.99" width="13.30" height="12.57" fill="#fbfbff"/>
<rect x="100.90" y="323.26" width="13.30" height="12.57" fill="#fbfbff"/>
<rect x="100.90" y="335.53" width="13.30" height="12.57" fill="#fbfbff"/>
<rect x="100.90" y="347.80" width="13.30" height="12.57" fill="#fbfbff"/>
<rect x="113.90" y="225.10" width="12.90" height="12.57" fill="#e4e4ff"/>
<rect x="113.90" y="237.37" width="12.90" height="12.57" fill="#eeeeff"/>
<rect x="113.90" y="249.64" width="12.90" height="12.57" fill="#dedeff"/>
<rect x="113.90" y="261.91" width="12.90" height="12.57" fill="#c9c9ff"/>
<rect x="113.90" y="274.18" width="12.90" height="12.57" fill="#d9d9ff"/>
<rect x="113.90" y="286.45" width="12.90" height="12.57" fill="#2f44f2"/>
<rect x="113.90" y="298.72" width="12.90" height="12.57" fill="#b2b2ff"/>
<rect x="113.90" y="310.99" width="12.90" height="12.57" fill="#c1c1ff"/>
<rect x="113.90" y="323.26" width="12.90" height="12.57" fill="#a9a9ff"/>
<rect x="113.90" y="335.53" width="12.90" height="12.57" fill="#a3a3ff"/>
<rect x="113.90" y="347.80" width="12.90" height="12.57" fill="#c9c9ff"/>
<rect x="88.0" y="224.8" width="38.7" height="135.57" fill="none" stroke="#000" stroke-width="1.0"/>
<line x1="83.70" y1="231.23" x2="88.20" y2="231.23" stroke="#000" stroke-width="1.0" />
<text x="79.30" y="234.33" font-size="8.75" text-anchor="end" font-weight="normal" fill="#111" stroke="#111" stroke-width="0.22" >B2 B cells</text>
<line x1="83.70" y1="243.50" x2="88.20" y2="243.50" stroke="#000" stroke-width="1.0" />
<text x="79.30" y="246.60" font-size="8.75" text-anchor="end" font-weight="normal" fill="#111" stroke="#111" stroke-width="0.22" >B1a B cells</text>
<line x1="83.70" y1="255.77" x2="88.20" y2="255.77" stroke="#000" stroke-width="1.0" />
<text x="79.30" y="258.88" font-size="8.75" text-anchor="end" font-weight="normal" fill="#111" stroke="#111" stroke-width="0.22" >Dendritic cells</text>
<line x1="83.70" y1="268.05" x2="88.20" y2="268.05" stroke="#000" stroke-width="1.0" />
<text x="79.30" y="271.15" font-size="8.75" text-anchor="end" font-weight="normal" fill="#111" stroke="#111" stroke-width="0.22" >Granulocytes</text>
<line x1="83.70" y1="280.31" x2="88.20" y2="280.31" stroke="#000" stroke-width="1.0" />
<text x="79.30" y="283.42" font-size="8.75" text-anchor="end" font-weight="normal" fill="#111" stroke="#111" stroke-width="0.22" >Macrophages</text>
<line x1="83.70" y1="292.58" x2="88.20" y2="292.58" stroke="#000" stroke-width="1.0" />
<text x="79.30" y="295.69" font-size="8.75" text-anchor="end" font-weight="normal" fill="#111" stroke="#111" stroke-width="0.22" >NK cells</text>
<line x1="83.70" y1="304.86" x2="88.20" y2="304.86" stroke="#000" stroke-width="1.0" />
<text x="79.30" y="307.96" font-size="8.75" text-anchor="end" font-weight="normal" fill="#111" stroke="#111" stroke-width="0.22" >NKT cells</text>
<line x1="83.70" y1="317.12" x2="88.20" y2="317.12" stroke="#000" stroke-width="1.0" />
<text x="79.30" y="320.23" font-size="8.75" text-anchor="end" font-weight="normal" fill="#111" stroke="#111" stroke-width="0.22" >CD4+ T cells</text>
<line x1="83.70" y1="329.39" x2="88.20" y2="329.39" stroke="#000" stroke-width="1.0" />
<text x="79.30" y="332.50" font-size="8.75" text-anchor="end" font-weight="normal" fill="#111" stroke="#111" stroke-width="0.22" >CD8+ T cells</text>
<line x1="83.70" y1="341.66" x2="88.20" y2="341.66" stroke="#000" stroke-width="1.0" />
<text x="79.30" y="344.76" font-size="8.75" text-anchor="end" font-weight="normal" fill="#111" stroke="#111" stroke-width="0.22" >γδT cells</text>
<line x1="83.70" y1="353.94" x2="88.20" y2="353.94" stroke="#000" stroke-width="1.0" />
<text x="79.30" y="357.04" font-size="8.75" text-anchor="end" font-weight="normal" fill="#111" stroke="#111" stroke-width="0.22" >Treg cells</text>
<text transform="translate(97.15,366.30) rotate(-45)" font-size="8.75" text-anchor="end" fill="#111" stroke="#111" stroke-width="0.22">Pfkl</text>
<text transform="translate(110.00,366.30) rotate(-45)" font-size="8.75" text-anchor="end" fill="#111" stroke="#111" stroke-width="0.22">Pfkm</text>
<text transform="translate(122.80,366.30) rotate(-45)" font-size="8.75" text-anchor="end" fill="#111" stroke="#111" stroke-width="0.22">Pfkp</text>
<defs><linearGradient id="cb" x1="0" y1="0" x2="0" y2="1"><stop offset="0" stop-color="#0c2cef"/><stop offset="0.5" stop-color="#7f8ff7"/><stop offset="1" stop-color="#ffffff"/></linearGradient></defs>
<rect x="135.4" y="224.8" width="15.6" height="61.4" fill="url(#cb)" stroke="#000" stroke-width="1.0"/>
<line x1="149.30" y1="225.50" x2="152.20" y2="225.50" stroke="#000" stroke-width="0.9" />
<line x1="134.90" y1="225.50" x2="137.40" y2="225.50" stroke="#000" stroke-width="0.9" />
<text x="155.00" y="227.70" font-size="7.2" text-anchor="start" font-weight="normal" fill="#111" stroke="#111" stroke-width="0.22" >700</text>
<line x1="149.30" y1="234.25" x2="152.20" y2="234.25" stroke="#000" stroke-width="0.9" />
<line x1="134.90" y1="234.25" x2="137.40" y2="234.25" stroke="#000" stroke-width="0.9" />
<text x="155.00" y="236.45" font-size="7.2" text-anchor="start" font-weight="normal" fill="#111" stroke="#111" stroke-width="0.22" >600</text>
<line x1="149.30" y1="243.00" x2="152.20" y2="243.00" stroke="#000" stroke-width="0.9" />
<line x1="134.90" y1="243.00" x2="137.40" y2="243.00" stroke="#000" stroke-width="0.9" />
<text x="155.00" y="245.20" font-size="7.2" text-anchor="start" font-weight="normal" fill="#111" stroke="#111" stroke-width="0.22" >500</text>
<line x1="149.30" y1="251.75" x2="152.20" y2="251.75" stroke="#000" stroke-width="0.9" />
<line x1="134.90" y1="251.75" x2="137.40" y2="251.75" stroke="#000" stroke-width="0.9" />
<text x="155.00" y="253.95" font-size="7.2" text-anchor="start" font-weight="normal" fill="#111" stroke="#111" stroke-width="0.22" >400</text>
<line x1="149.30" y1="260.50" x2="152.20" y2="260.50" stroke="#000" stroke-width="0.9" />
<line x1="134.90" y1="260.50" x2="137.40" y2="260.50" stroke="#000" stroke-width="0.9" />
<text x="155.00" y="262.70" font-size="7.2" text-anchor="start" font-weight="normal" fill="#111" stroke="#111" stroke-width="0.22" >300</text>
<line x1="149.30" y1="269.25" x2="152.20" y2="269.25" stroke="#000" stroke-width="0.9" />
<line x1="134.90" y1="269.25" x2="137.40" y2="269.25" stroke="#000" stroke-width="0.9" />
<text x="155.00" y="271.45" font-size="7.2" text-anchor="start" font-weight="normal" fill="#111" stroke="#111" stroke-width="0.22" >200</text>
<line x1="149.30" y1="278.00" x2="152.20" y2="278.00" stroke="#000" stroke-width="0.9" />
<line x1="134.90" y1="278.00" x2="137.40" y2="278.00" stroke="#000" stroke-width="0.9" />
<text x="155.00" y="280.20" font-size="7.2" text-anchor="start" font-weight="normal" fill="#111" stroke="#111" stroke-width="0.22" >100</text>
<text x="135.60" y="302.00" font-size="9.0" text-anchor="start" font-weight="normal" fill="#111" stroke="#111" stroke-width="0.22" >transcript</text>
<text x="135.60" y="312.50" font-size="9.0" text-anchor="start" font-weight="normal" fill="#111" stroke="#111" stroke-width="0.22" >counts</text>
<text x="135.60" y="323.00" font-size="9.0" text-anchor="start" font-weight="normal" fill="#111" stroke="#111" stroke-width="0.22" >[normalized]</text>
<defs><filter id="bl" x="-20%" y="-300%" width="140%" height="700%"><feGaussianBlur stdDeviation="1.2 0.7"/></filter><filter id="bl2" x="-20%" y="-200%" width="140%" height="500%"><feGaussianBlur stdDeviation="1.6 1.2"/></filter><filter id="bl3" x="-20%" y="-200%" width="140%" height="500%"><feGaussianBlur stdDeviation="1.1 0.9"/></filter><filter id="hz" x="-20%" y="-100%" width="140%" height="300%"><feGaussianBlur stdDeviation="1.5 1.5"/></filter><linearGradient id="g3" x1="0" y1="0" x2="0" y2="1"><stop offset="0" stop-color="#ebebeb"/><stop offset="1" stop-color="#fbfbfb"/></linearGradient><linearGradient id="g1" x1="0" y1="0" x2="0" y2="1"><stop offset="0" stop-color="#c8c8c8"/><stop offset="1" stop-color="#bcbcbc"/></linearGradient></defs>
<text x="399.80" y="234.10" font-size="10.1" text-anchor="start" font-weight="normal" fill="#111" stroke="#111" stroke-width="0.22" >mBMDM</text>
<text x="250.00" y="280.20" font-size="8.7" text-anchor="middle" font-weight="normal" fill="#111" stroke="#111" stroke-width="0.22" >Ø</text>
<text x="266.40" y="280.20" font-size="8.7" text-anchor="middle" font-weight="normal" fill="#111" stroke="#111" stroke-width="0.22" >15</text>
<text x="284.20" y="280.20" font-size="8.7" text-anchor="middle" font-weight="normal" fill="#111" stroke="#111" stroke-width="0.22" >30</text>
<text x="301.20" y="280.20" font-size="8.7" text-anchor="middle" font-weight="normal" fill="#111" stroke="#111" stroke-width="0.22" >60</text>
<text x="317.30" y="280.20" font-size="8.7" text-anchor="middle" font-weight="normal" fill="#111" stroke="#111" stroke-width="0.22" >120</text>
<text x="335.20" y="280.20" font-size="8.7" text-anchor="middle" font-weight="normal" fill="#111" stroke="#111" stroke-width="0.22" >Ø</text>
<text x="350.60" y="280.20" font-size="8.7" text-anchor="middle" font-weight="normal" fill="#111" stroke="#111" stroke-width="0.22" >15</text>
<text x="368.20" y="280.20" font-size="8.7" text-anchor="middle" font-weight="normal" fill="#111" stroke="#111" stroke-width="0.22" >30</text>
<text x="385.10" y="280.20" font-size="8.7" text-anchor="middle" font-weight="normal" fill="#111" stroke="#111" stroke-width="0.22" >60</text>
<text x="401.60" y="280.20" font-size="8.7" text-anchor="middle" font-weight="normal" fill="#111" stroke="#111" stroke-width="0.22" >120</text>
<text x="425.80" y="280.20" font-size="8.7" text-anchor="middle" font-weight="normal" fill="#111" stroke="#111" stroke-width="0.22" >Ø</text>
<text x="441.30" y="280.20" font-size="8.7" text-anchor="middle" font-weight="normal" fill="#111" stroke="#111" stroke-width="0.22" >15</text>
<text x="459.30" y="280.20" font-size="8.7" text-anchor="middle" font-weight="normal" fill="#111" stroke="#111" stroke-width="0.22" >30</text>
<text x="476.30" y="280.20" font-size="8.7" text-anchor="middle" font-weight="normal" fill="#111" stroke="#111" stroke-width="0.22" >60</text>
<text x="492.60" y="280.20" font-size="8.7" text-anchor="middle" font-weight="normal" fill="#111" stroke="#111" stroke-width="0.22" >120</text>
<text x="510.80" y="280.20" font-size="8.7" text-anchor="middle" font-weight="normal" fill="#111" stroke="#111" stroke-width="0.22" >Ø</text>
<text x="526.00" y="280.20" font-size="8.7" text-anchor="middle" font-weight="normal" fill="#111" stroke="#111" stroke-width="0.22" >15</text>
<text x="543.70" y="280.20" font-size="8.7" text-anchor="middle" font-weight="normal" fill="#111" stroke="#111" stroke-width="0.22" >30</text>
<text x="560.90" y="280.20" font-size="8.7" text-anchor="middle" font-weight="normal" fill="#111" stroke="#111" stroke-width="0.22" >60</text>
<text x="576.90" y="280.20" font-size="8.7" text-anchor="middle" font-weight="normal" fill="#111" stroke="#111" stroke-width="0.22" >120</text>
<text x="593.70" y="280.20" font-size="8.7" text-anchor="start" font-weight="normal" fill="#111" stroke="#111" stroke-width="0.22" >[min]</text>
<text x="295.50" y="261.80" font-size="10" text-anchor="middle" font-weight="normal" fill="#111" stroke="#111" stroke-width="0.22" >LPS</text>
<line x1="264.20" y1="269.20" x2="323.20" y2="269.20" stroke="#333" stroke-width="0.8" />
<text x="377.80" y="261.80" font-size="10" text-anchor="middle" font-weight="normal" fill="#111" stroke="#111" stroke-width="0.22" >R848</text>
<line x1="349.70" y1="269.20" x2="408.80" y2="269.20" stroke="#333" stroke-width="0.8" />
<text x="469.00" y="261.80" font-size="10" text-anchor="middle" font-weight="normal" fill="#111" stroke="#111" stroke-width="0.22" >Pam<tspan font-size="6" dy="2.4">3</tspan><tspan dy="-2.4">CSK</tspan><tspan font-size="6" dy="2.4">4</tspan></text>
<line x1="438.70" y1="269.20" x2="497.50" y2="269.20" stroke="#333" stroke-width="0.8" />
<text x="556.00" y="261.80" font-size="10" text-anchor="middle" font-weight="normal" fill="#111" stroke="#111" stroke-width="0.22" >poly(I:C)</text>
<line x1="522.80" y1="269.20" x2="581.40" y2="269.20" stroke="#333" stroke-width="0.8" />
<clipPath id="c1"><rect x="240.40" y="285.40" width="172.40" height="17.00"/></clipPath>
<rect x="240.40" y="285.40" width="172.40" height="17.00" fill="url(#g1)"/>
<g clip-path="url(#c1)"><g filter="url(#bl)">
<path d="M243.48,292.60 Q248.80,293.20 254.12,292.60" fill="none" stroke="#000" stroke-width="1.87" stroke-linecap="round" stroke-opacity="0.22"/>
<path d="M260.31,292.80 Q265.60,293.40 270.89,292.80" fill="none" stroke="#000" stroke-width="1.93" stroke-linecap="round" stroke-opacity="0.28"/>
<path d="M278.06,293.60 Q283.30,294.20 288.54,293.60" fill="none" stroke="#000" stroke-width="2.03" stroke-linecap="round" stroke-opacity="0.38"/>
<path d="M296.35,294.70 Q301.30,295.30 306.25,294.70" fill="none" stroke="#000" stroke-width="2.59" stroke-linecap="round" stroke-opacity="0.95"/>
<path d="M312.92,294.70 Q317.90,295.30 322.88,294.70" fill="none" stroke="#000" stroke-width="2.54" stroke-linecap="round" stroke-opacity="0.90"/>
<path d="M329.27,295.10 Q334.60,295.70 339.93,295.10" fill="none" stroke="#000" stroke-width="1.85" stroke-linecap="round" stroke-opacity="0.20"/>
<path d="M346.05,294.40 Q351.00,295.00 355.95,294.40" fill="none" stroke="#000" stroke-width="2.59" stroke-linecap="round" stroke-opacity="0.95"/>
<path d="M363.27,293.80 Q368.20,294.40 373.13,293.80" fill="none" stroke="#000" stroke-width="2.64" stroke-linecap="round" stroke-opacity="1.00"/>
<path d="M380.17,293.80 Q385.30,294.40 390.43,293.80" fill="none" stroke="#000" stroke-width="2.24" stroke-linecap="round" stroke-opacity="0.60"/>
<path d="M398.02,292.40 Q403.30,293.00 408.58,292.40" fill="none" stroke="#000" stroke-width="1.95" stroke-linecap="round" stroke-opacity="0.30"/>
</g></g>
<rect x="240.40" y="285.40" width="172.40" height="17.00" fill="none" stroke="#111" stroke-width="0.9"/>
<clipPath id="c2"><rect x="240.40" y="305.40" width="172.40" height="17.00"/></clipPath>
<rect x="240.40" y="305.40" width="172.40" height="17.00" fill="#f5f5f5"/>
<g clip-path="url(#c2)"><g filter="url(#bl)">
<path d="M243.75,313.50 Q248.80,314.10 253.85,313.50" fill="none" stroke="#000" stroke-width="2.39" stroke-linecap="round" stroke-opacity="0.75"/>
<path d="M260.65,313.80 Q265.60,314.40 270.55,313.80" fill="none" stroke="#000" stroke-width="2.59" stroke-linecap="round" stroke-opacity="0.95"/>
<path d="M278.33,313.80 Q283.30,314.40 288.27,313.80" fill="none" stroke="#000" stroke-width="2.56" stroke-linecap="round" stroke-opacity="0.92"/>
<path d="M296.36,313.80 Q301.30,314.40 306.24,313.80" fill="none" stroke="#000" stroke-width="2.61" stroke-linecap="round" stroke-opacity="0.97"/>
<path d="M312.93,313.80 Q317.90,314.40 322.87,313.80" fill="none" stroke="#000" stroke-width="2.56" stroke-linecap="round" stroke-opacity="0.92"/>
<path d="M329.60,314.60 Q334.60,315.20 339.60,314.60" fill="none" stroke="#000" stroke-width="2.49" stroke-linecap="round" stroke-opacity="0.85"/>
<path d="M346.06,314.80 Q351.00,315.40 355.94,314.80" fill="none" stroke="#000" stroke-width="2.61" stroke-linecap="round" stroke-opacity="0.97"/>
<path d="M363.27,315.00 Q368.20,315.60 373.13,315.00" fill="none" stroke="#000" stroke-width="2.64" stroke-linecap="round" stroke-opacity="1.00"/>
<path d="M380.35,314.80 Q385.30,315.40 390.25,314.80" fill="none" stroke="#000" stroke-width="2.59" stroke-linecap="round" stroke-opacity="0.95"/>
<path d="M398.35,314.40 Q403.30,315.00 408.25,314.40" fill="none" stroke="#000" stroke-width="2.59" stroke-linecap="round" stroke-opacity="0.95"/>
</g></g>
<rect x="240.40" y="305.40" width="172.40" height="17.00" fill="none" stroke="#111" stroke-width="0.9"/>
<clipPath id="c3"><rect x="240.40" y="325.50" width="172.40" height="17.10"/></clipPath>
<rect x="240.40" y="325.50" width="172.40" height="17.10" fill="url(#g3)"/>
<g clip-path="url(#c3)"><g filter="url(#bl3)">
<rect x="240.80" y="330.98" width="16.00" height="4.44" rx="2.22" fill="#000" fill-opacity="0.80"/>
<rect x="257.60" y="332.37" width="16.00" height="3.86" rx="1.93" fill="#000" fill-opacity="0.48"/>
<rect x="275.30" y="332.55" width="16.00" height="3.90" rx="1.95" fill="#000" fill-opacity="0.50"/>
<rect x="293.30" y="332.33" width="16.00" height="3.94" rx="1.97" fill="#000" fill-opacity="0.52"/>
<rect x="309.90" y="332.33" width="16.00" height="3.94" rx="1.97" fill="#000" fill-opacity="0.52"/>
<rect x="326.60" y="332.35" width="16.00" height="3.90" rx="1.95" fill="#000" fill-opacity="0.50"/>
<rect x="343.00" y="332.37" width="16.00" height="3.86" rx="1.93" fill="#000" fill-opacity="0.48"/>
<rect x="360.20" y="332.05" width="16.00" height="3.90" rx="1.95" fill="#000" fill-opacity="0.50"/>
<rect x="377.30" y="332.03" width="16.00" height="3.94" rx="1.97" fill="#000" fill-opacity="0.52"/>
<rect x="395.30" y="330.34" width="16.00" height="4.71" rx="2.35" fill="#000" fill-opacity="0.95"/>
</g></g>
<rect x="240.40" y="325.50" width="172.40" height="17.10" fill="none" stroke="#111" stroke-width="0.9"/>
<clipPath id="c4"><rect x="416.40" y="285.40" width="171.10" height="17.00"/></clipPath>
<rect x="416.40" y="285.40" width="171.10" height="17.00" fill="url(#g1)"/>
<g clip-path="url(#c4)"><g filter="url(#bl)">
<path d="M420.20,292.60 Q425.50,293.20 430.80,292.60" fill="none" stroke="#000" stroke-width="1.90" stroke-linecap="round" stroke-opacity="0.25"/>
<path d="M436.23,293.00 Q441.50,293.60 446.77,293.00" fill="none" stroke="#000" stroke-width="1.97" stroke-linecap="round" stroke-opacity="0.32"/>
<path d="M454.27,293.60 Q459.30,294.20 464.33,293.60" fill="none" stroke="#000" stroke-width="2.44" stroke-linecap="round" stroke-opacity="0.80"/>
<path d="M471.37,293.60 Q476.30,294.20 481.23,293.60" fill="none" stroke="#000" stroke-width="2.64" stroke-linecap="round" stroke-opacity="1.00"/>
<path d="M487.77,293.60 Q492.80,294.20 497.83,293.60" fill="none" stroke="#000" stroke-width="2.44" stroke-linecap="round" stroke-opacity="0.80"/>
<path d="M505.18,294.10 Q510.50,294.70 515.82,294.10" fill="none" stroke="#000" stroke-width="1.87" stroke-linecap="round" stroke-opacity="0.22"/>
<path d="M520.73,294.10 Q526.00,294.70 531.27,294.10" fill="none" stroke="#000" stroke-width="1.97" stroke-linecap="round" stroke-opacity="0.32"/>
<path d="M538.52,293.60 Q543.70,294.20 548.88,293.60" fill="none" stroke="#000" stroke-width="2.15" stroke-linecap="round" stroke-opacity="0.50"/>
<path d="M555.97,293.60 Q560.90,294.20 565.83,293.60" fill="none" stroke="#000" stroke-width="2.64" stroke-linecap="round" stroke-opacity="1.00"/>
<path d="M572.32,293.10 Q577.50,293.70 582.68,293.10" fill="none" stroke="#000" stroke-width="2.15" stroke-linecap="round" stroke-opacity="0.50"/>
</g></g>
<rect x="416.40" y="285.40" width="171.10" height="17.00" fill="none" stroke="#111" stroke-width="0.9"/>
<clipPath id="c5"><rect x="416.40" y="305.40" width="171.10" height="17.00"/></clipPath>
<rect x="416.40" y="305.40" width="171.10" height="17.00" fill="#f5f5f5"/>
<g clip-path="url(#c5)"><g filter="url(#bl)">
<path d="M420.40,312.10 Q425.50,312.70 430.60,312.10" fill="none" stroke="#000" stroke-width="2.29" stroke-linecap="round" stroke-opacity="0.65"/>
<path d="M436.51,313.50 Q441.50,314.10 446.49,313.50" fill="none" stroke="#000" stroke-width="2.52" stroke-linecap="round" stroke-opacity="0.88"/>
<path d="M454.33,314.40 Q459.30,315.00 464.27,314.40" fill="none" stroke="#000" stroke-width="2.56" stroke-linecap="round" stroke-opacity="0.92"/>
<path d="M471.36,314.40 Q476.30,315.00 481.24,314.40" fill="none" stroke="#000" stroke-width="2.61" stroke-linecap="round" stroke-opacity="0.97"/>
<path d="M487.83,314.40 Q492.80,315.00 497.77,314.40" fill="none" stroke="#000" stroke-width="2.56" stroke-linecap="round" stroke-opacity="0.92"/>
<path d="M505.48,314.70 Q510.50,315.30 515.52,314.70" fill="none" stroke="#000" stroke-width="2.46" stroke-linecap="round" stroke-opacity="0.82"/>
<path d="M521.03,314.40 Q526.00,315.00 530.97,314.40" fill="none" stroke="#000" stroke-width="2.56" stroke-linecap="round" stroke-opacity="0.92"/>
<path d="M538.73,313.80 Q543.70,314.40 548.67,313.80" fill="none" stroke="#000" stroke-width="2.56" stroke-linecap="round" stroke-opacity="0.92"/>
<path d="M555.92,313.60 Q560.90,314.20 565.88,313.60" fill="none" stroke="#000" stroke-width="2.54" stroke-linecap="round" stroke-opacity="0.90"/>
<path d="M572.53,313.10 Q577.50,313.70 582.47,313.10" fill="none" stroke="#000" stroke-width="2.56" stroke-linecap="round" stroke-opacity="0.92"/>
</g></g>
<rect x="416.40" y="305.40" width="171.10" height="17.00" fill="none" stroke="#111" stroke-width="0.9"/>
<clipPath id="c6"><rect x="416.40" y="325.50" width="171.10" height="17.10"/></clipPath>
<rect x="416.40" y="325.50" width="171.10" height="17.10" fill="url(#g3)"/>
<g clip-path="url(#c6)"><g filter="url(#bl3)">
<rect x="417.50" y="330.28" width="16.00" height="4.44" rx="2.22" fill="#000" fill-opacity="0.80"/>
<rect x="433.50" y="331.64" width="16.00" height="4.12" rx="2.06" fill="#000" fill-opacity="0.62"/>
<rect x="451.30" y="332.55" width="16.00" height="3.90" rx="1.95" fill="#000" fill-opacity="0.50"/>
<rect x="468.30" y="332.55" width="16.00" height="3.90" rx="1.95" fill="#000" fill-opacity="0.50"/>
<rect x="484.80" y="332.31" width="16.00" height="3.99" rx="2.00" fill="#000" fill-opacity="0.55"/>
<rect x="502.50" y="331.87" width="16.00" height="4.26" rx="2.13" fill="#000" fill-opacity="0.70"/>
<rect x="518.00" y="331.78" width="16.00" height="4.44" rx="2.22" fill="#000" fill-opacity="0.80"/>
<rect x="535.70" y="331.82" width="16.00" height="4.35" rx="2.17" fill="#000" fill-opacity="0.75"/>
<rect x="552.90" y="331.48" width="16.00" height="4.44" rx="2.22" fill="#000" fill-opacity="0.80"/>
<rect x="569.50" y="330.94" width="16.00" height="4.53" rx="2.27" fill="#000" fill-opacity="0.85"/>
</g></g>
<rect x="416.40" y="325.50" width="171.10" height="17.10" fill="none" stroke="#111" stroke-width="0.9"/>
<text x="218.30" y="288.80" font-size="7.0" text-anchor="start" font-weight="normal" fill="#111" stroke="#111" stroke-width="0.22" >kDa</text>
<text x="231.30" y="301.50" font-size="7.0" text-anchor="end" font-weight="normal" fill="#111" stroke="#111" stroke-width="0.22" >70</text>
<line x1="233.70" y1="299.20" x2="240.30" y2="299.20" stroke="#111" stroke-width="0.9" />
<text x="231.30" y="322.30" font-size="7.0" text-anchor="end" font-weight="normal" fill="#111" stroke="#111" stroke-width="0.22" >70</text>
<line x1="233.70" y1="320.00" x2="240.30" y2="320.00" stroke="#111" stroke-width="0.9" />
<text x="231.30" y="335.90" font-size="7.0" text-anchor="end" font-weight="normal" fill="#111" stroke="#111" stroke-width="0.22" >40</text>
<line x1="233.70" y1="333.60" x2="240.30" y2="333.60" stroke="#111" stroke-width="0.9" />
<text x="590.60" y="297.00" font-size="9.0" text-anchor="start" font-weight="normal" fill="#111" stroke="#111" stroke-width="0.22" >p-PFKL S775</text>
<text x="590.60" y="319.00" font-size="9.0" text-anchor="start" font-weight="normal" fill="#111" stroke="#111" stroke-width="0.22" >PFKL</text>
<text x="590.60" y="335.70" font-size="9.0" text-anchor="start" font-weight="normal" fill="#111" stroke="#111" stroke-width="0.22" >β-actin</text>
<text x="175.50" y="418.80" font-size="10.1" text-anchor="start" font-weight="normal" fill="#111" stroke="#111" stroke-width="0.22" >hMDM</text>
<text x="48.30" y="459.20" font-size="8.7" text-anchor="middle" font-weight="normal" fill="#111" stroke="#111" stroke-width="0.22" >Ø</text>
<text x="63.80" y="459.20" font-size="8.7" text-anchor="middle" font-weight="normal" fill="#111" stroke="#111" stroke-width="0.22" >30</text>
<text x="81.30" y="459.20" font-size="8.7" text-anchor="middle" font-weight="normal" fill="#111" stroke="#111" stroke-width="0.22" >60</text>
<text x="97.00" y="459.20" font-size="8.7" text-anchor="middle" font-weight="normal" fill="#111" stroke="#111" stroke-width="0.22" >120</text>
<text x="115.00" y="459.20" font-size="8.7" text-anchor="middle" font-weight="normal" fill="#111" stroke="#111" stroke-width="0.22" >180</text>
<text x="133.00" y="459.20" font-size="8.7" text-anchor="middle" font-weight="normal" fill="#111" stroke="#111" stroke-width="0.22" >Ø</text>
<text x="149.50" y="459.20" font-size="8.7" text-anchor="middle" font-weight="normal" fill="#111" stroke="#111" stroke-width="0.22" >30</text>
<text x="166.20" y="459.20" font-size="8.7" text-anchor="middle" font-weight="normal" fill="#111" stroke="#111" stroke-width="0.22" >60</text>
<text x="182.50" y="459.20" font-size="8.7" text-anchor="middle" font-weight="normal" fill="#111" stroke="#111" stroke-width="0.22" >120</text>
<text x="202.00" y="459.20" font-size="8.7" text-anchor="middle" font-weight="normal" fill="#111" stroke="#111" stroke-width="0.22" >180</text>
<text x="223.80" y="459.20" font-size="8.7" text-anchor="middle" font-weight="normal" fill="#111" stroke="#111" stroke-width="0.22" >Ø</text>
<text x="240.50" y="459.20" font-size="8.7" text-anchor="middle" font-weight="normal" fill="#111" stroke="#111" stroke-width="0.22" >30</text>
<text x="255.50" y="459.20" font-size="8.7" text-anchor="middle" font-weight="normal" fill="#111" stroke="#111" stroke-width="0.22" >60</text>
<text x="270.60" y="459.20" font-size="8.7" text-anchor="middle" font-weight="normal" fill="#111" stroke="#111" stroke-width="0.22" >120</text>
<text x="287.50" y="459.20" font-size="8.7" text-anchor="middle" font-weight="normal" fill="#111" stroke="#111" stroke-width="0.22" >180</text>
<text x="301.30" y="459.20" font-size="8.7" text-anchor="start" font-weight="normal" fill="#111" stroke="#111" stroke-width="0.22" >[min]</text>
<text x="93.80" y="437.00" font-size="10" text-anchor="middle" font-weight="normal" fill="#111" stroke="#111" stroke-width="0.22" >R848</text>
<line x1="62.00" y1="445.30" x2="121.30" y2="445.30" stroke="#333" stroke-width="0.8" />
<text x="177.30" y="437.00" font-size="10" text-anchor="middle" font-weight="normal" fill="#111" stroke="#111" stroke-width="0.22" >LPS</text>
<line x1="147.50" y1="445.30" x2="206.80" y2="445.30" stroke="#333" stroke-width="0.8" />
<text x="267.50" y="437.00" font-size="10" text-anchor="middle" font-weight="normal" fill="#111" stroke="#111" stroke-width="0.22" >Pam<tspan font-size="6" dy="2.4">3</tspan><tspan dy="-2.4">CSK</tspan><tspan font-size="6" dy="2.4">4</tspan></text>
<line x1="236.20" y1="445.30" x2="295.50" y2="445.30" stroke="#333" stroke-width="0.8" />
<clipPath id="c7"><rect x="37.70" y="463.40" width="172.80" height="17.20"/></clipPath>
<rect x="37.70" y="463.40" width="172.80" height="17.20" fill="#f7f7f7"/>
<g clip-path="url(#c7)"><g filter="url(#hz)">
<rect x="58.70" y="465.40" width="13.00" height="7.20" fill="#000" fill-opacity="0.06"/>
<rect x="75.50" y="465.40" width="13.00" height="7.20" fill="#000" fill-opacity="0.14"/>
<rect x="92.30" y="465.40" width="13.00" height="7.20" fill="#000" fill-opacity="0.13"/>
<rect x="109.40" y="465.40" width="13.00" height="7.20" fill="#000" fill-opacity="0.13"/>
<rect x="159.70" y="465.40" width="13.00" height="7.20" fill="#000" fill-opacity="0.11"/>
<rect x="176.50" y="465.40" width="13.00" height="7.20" fill="#000" fill-opacity="0.11"/>
<rect x="194.50" y="465.40" width="13.00" height="7.20" fill="#000" fill-opacity="0.12"/>
</g></g>
<g clip-path="url(#c7)"><g filter="url(#bl)">
<path d="M42.10,470.40 Q47.80,471.00 53.50,470.40" fill="none" stroke="#000" stroke-width="1.61" stroke-linecap="round" stroke-opacity="0.12"/>
<path d="M59.65,471.60 Q65.20,472.20 70.75,471.60" fill="none" stroke="#000" stroke-width="1.91" stroke-linecap="round" stroke-opacity="0.45"/>
<path d="M76.69,472.40 Q82.00,473.00 87.31,472.40" fill="none" stroke="#000" stroke-width="2.37" stroke-linecap="round" stroke-opacity="0.97"/>
<path d="M93.46,472.40 Q98.80,473.00 104.14,472.40" fill="none" stroke="#000" stroke-width="2.33" stroke-linecap="round" stroke-opacity="0.92"/>
<path d="M110.56,472.40 Q115.90,473.00 121.24,472.40" fill="none" stroke="#000" stroke-width="2.33" stroke-linecap="round" stroke-opacity="0.92"/>
<path d="M127.30,472.90 Q133.00,473.50 138.70,472.90" fill="none" stroke="#000" stroke-width="1.61" stroke-linecap="round" stroke-opacity="0.12"/>
<path d="M143.85,472.40 Q149.50,473.00 155.15,472.40" fill="none" stroke="#000" stroke-width="1.70" stroke-linecap="round" stroke-opacity="0.22"/>
<path d="M160.81,471.40 Q166.20,472.00 171.59,471.40" fill="none" stroke="#000" stroke-width="2.22" stroke-linecap="round" stroke-opacity="0.80"/>
<path d="M177.61,470.90 Q183.00,471.50 188.39,470.90" fill="none" stroke="#000" stroke-width="2.22" stroke-linecap="round" stroke-opacity="0.80"/>
<path d="M195.63,470.40 Q201.00,471.00 206.37,470.40" fill="none" stroke="#000" stroke-width="2.27" stroke-linecap="round" stroke-opacity="0.85"/>
</g></g>
<rect x="37.70" y="463.40" width="172.80" height="17.20" fill="none" stroke="#111" stroke-width="0.9"/>
<clipPath id="c8"><rect x="37.70" y="483.50" width="172.80" height="17.10"/></clipPath>
<rect x="37.70" y="483.50" width="172.80" height="17.10" fill="#f7f7f7"/>
<g clip-path="url(#c8)"><g filter="url(#hz)">
<rect x="41.30" y="485.50" width="13.00" height="6.30" fill="#000" fill-opacity="0.08"/>
<rect x="58.70" y="485.50" width="13.00" height="6.30" fill="#000" fill-opacity="0.04"/>
<rect x="75.50" y="485.50" width="13.00" height="6.30" fill="#000" fill-opacity="0.07"/>
<rect x="92.30" y="485.50" width="13.00" height="6.30" fill="#000" fill-opacity="0.06"/>
<rect x="109.40" y="485.50" width="13.00" height="6.30" fill="#000" fill-opacity="0.07"/>
<rect x="126.50" y="485.50" width="13.00" height="6.30" fill="#000" fill-opacity="0.06"/>
<rect x="143.00" y="485.50" width="13.00" height="6.30" fill="#000" fill-opacity="0.06"/>
<rect x="159.70" y="485.50" width="13.00" height="6.30" fill="#000" fill-opacity="0.06"/>
<rect x="176.50" y="485.50" width="13.00" height="6.30" fill="#000" fill-opacity="0.06"/>
<rect x="194.50" y="485.50" width="13.00" height="6.30" fill="#000" fill-opacity="0.07"/>
</g></g>
<g clip-path="url(#c8)"><g filter="url(#bl)">
<path d="M42.48,491.30 Q47.80,491.90 53.12,491.30" fill="none" stroke="#000" stroke-width="2.35" stroke-linecap="round" stroke-opacity="0.95"/>
<path d="M59.70,492.40 Q65.20,493.00 70.70,492.40" fill="none" stroke="#000" stroke-width="2.00" stroke-linecap="round" stroke-opacity="0.55"/>
<path d="M76.63,491.90 Q82.00,492.50 87.37,491.90" fill="none" stroke="#000" stroke-width="2.27" stroke-linecap="round" stroke-opacity="0.85"/>
<path d="M93.41,491.80 Q98.80,492.40 104.19,491.80" fill="none" stroke="#000" stroke-width="2.22" stroke-linecap="round" stroke-opacity="0.80"/>
<path d="M110.55,491.60 Q115.90,492.20 121.25,491.60" fill="none" stroke="#000" stroke-width="2.29" stroke-linecap="round" stroke-opacity="0.88"/>
<path d="M127.60,491.60 Q133.00,492.20 138.40,491.60" fill="none" stroke="#000" stroke-width="2.20" stroke-linecap="round" stroke-opacity="0.78"/>
<path d="M144.10,491.30 Q149.50,491.90 154.90,491.30" fill="none" stroke="#000" stroke-width="2.20" stroke-linecap="round" stroke-opacity="0.78"/>
<path d="M160.80,491.10 Q166.20,491.70 171.60,491.10" fill="none" stroke="#000" stroke-width="2.20" stroke-linecap="round" stroke-opacity="0.78"/>
<path d="M177.60,491.10 Q183.00,491.70 188.40,491.10" fill="none" stroke="#000" stroke-width="2.20" stroke-linecap="round" stroke-opacity="0.78"/>
<path d="M195.62,490.80 Q201.00,491.40 206.38,490.80" fill="none" stroke="#000" stroke-width="2.24" stroke-linecap="round" stroke-opacity="0.82"/>
</g></g>
<rect x="37.70" y="483.50" width="172.80" height="17.10" fill="none" stroke="#111" stroke-width="0.9"/>
<clipPath id="c9"><rect x="37.70" y="503.20" width="172.80" height="17.10"/></clipPath>
<rect x="37.70" y="503.20" width="172.80" height="17.10" fill="#f7f7f7"/>
<g clip-path="url(#c9)"><g filter="url(#bl2)">
<rect x="40.05" y="504.16" width="15.50" height="5.89" rx="2.94" fill="#000" fill-opacity="0.95" transform="rotate(12 47.80 507.10)"/>
<rect x="57.45" y="507.96" width="15.50" height="4.88" rx="2.44" fill="#000" fill-opacity="0.50" transform="rotate(8 65.20 510.40)"/>
<rect x="74.25" y="509.31" width="15.50" height="4.99" rx="2.49" fill="#000" fill-opacity="0.55" transform="rotate(6 82.00 511.80)"/>
<rect x="91.05" y="511.15" width="15.50" height="5.10" rx="2.55" fill="#000" fill-opacity="0.60" transform="rotate(6 98.80 513.70)"/>
<rect x="108.15" y="512.12" width="15.50" height="5.37" rx="2.69" fill="#000" fill-opacity="0.72" transform="rotate(3 115.90 514.80)"/>
<rect x="125.25" y="511.91" width="15.50" height="5.78" rx="2.89" fill="#000" fill-opacity="0.90"/>
<rect x="141.75" y="511.30" width="15.50" height="6.00" rx="3.00" fill="#000" fill-opacity="1.00" transform="rotate(-4 149.50 514.30)"/>
<rect x="158.45" y="510.30" width="15.50" height="6.00" rx="3.00" fill="#000" fill-opacity="1.00" transform="rotate(-6 166.20 513.30)"/>
<rect x="175.25" y="507.83" width="15.50" height="5.93" rx="2.97" fill="#000" fill-opacity="0.97" transform="rotate(-10 183.00 510.80)"/>
<rect x="193.25" y="505.55" width="15.50" height="5.50" rx="2.75" fill="#000" fill-opacity="0.78" transform="rotate(-12 201.00 508.30)"/>
</g></g>
<rect x="37.70" y="503.20" width="172.80" height="17.10" fill="none" stroke="#111" stroke-width="0.9"/>
<clipPath id="c10"><rect x="213.80" y="465.00" width="84.20" height="16.60"/></clipPath>
<rect x="213.80" y="465.00" width="84.20" height="16.60" fill="#f7f7f7"/>
<g clip-path="url(#c10)"><g filter="url(#hz)">
<rect x="234.00" y="467.00" width="13.00" height="6.20" fill="#000" fill-opacity="0.08"/>
<rect x="249.50" y="467.00" width="13.00" height="6.20" fill="#000" fill-opacity="0.10"/>
<rect x="265.00" y="467.00" width="13.00" height="6.20" fill="#000" fill-opacity="0.05"/>
<rect x="280.50" y="467.00" width="13.00" height="6.20" fill="#000" fill-opacity="0.07"/>
</g></g>
<g clip-path="url(#c10)"><g filter="url(#bl)">
<path d="M218.09,472.00 Q223.80,472.60 229.51,472.00" fill="none" stroke="#000" stroke-width="1.57" stroke-linecap="round" stroke-opacity="0.08"/>
<path d="M235.11,473.00 Q240.50,473.60 245.89,473.00" fill="none" stroke="#000" stroke-width="2.22" stroke-linecap="round" stroke-opacity="0.80"/>
<path d="M250.69,473.80 Q256.00,474.40 261.31,473.80" fill="none" stroke="#000" stroke-width="2.37" stroke-linecap="round" stroke-opacity="0.97"/>
<path d="M265.98,473.50 Q271.50,474.10 277.02,473.50" fill="none" stroke="#000" stroke-width="1.95" stroke-linecap="round" stroke-opacity="0.50"/>
<path d="M281.54,472.50 Q287.00,473.10 292.46,472.50" fill="none" stroke="#000" stroke-width="2.08" stroke-linecap="round" stroke-opacity="0.65"/>
</g></g>
<rect x="213.80" y="465.00" width="84.20" height="16.60" fill="none" stroke="#111" stroke-width="0.9"/>
<clipPath id="c11"><rect x="213.80" y="484.30" width="84.20" height="16.50"/></clipPath>
<rect x="213.80" y="484.30" width="84.20" height="16.50" fill="#f7f7f7"/>
<g clip-path="url(#c11)"><g filter="url(#bl)">
<path d="M218.40,490.60 Q223.80,491.20 229.20,490.60" fill="none" stroke="#000" stroke-width="2.20" stroke-linecap="round" stroke-opacity="0.78"/>
<path d="M235.12,491.60 Q240.50,492.20 245.88,491.60" fill="none" stroke="#000" stroke-width="2.24" stroke-linecap="round" stroke-opacity="0.82"/>
<path d="M250.66,492.90 Q256.00,493.50 261.34,492.90" fill="none" stroke="#000" stroke-width="2.33" stroke-linecap="round" stroke-opacity="0.92"/>
<path d="M266.12,492.10 Q271.50,492.70 276.88,492.10" fill="none" stroke="#000" stroke-width="2.24" stroke-linecap="round" stroke-opacity="0.82"/>
<path d="M281.65,491.30 Q287.00,491.90 292.35,491.30" fill="none" stroke="#000" stroke-width="2.29" stroke-linecap="round" stroke-opacity="0.88"/>
</g></g>
<rect x="213.80" y="484.30" width="84.20" height="16.50" fill="none" stroke="#111" stroke-width="0.9"/>
<clipPath id="c12"><rect x="213.80" y="503.60" width="84.20" height="16.90"/></clipPath>
<rect x="213.80" y="503.60" width="84.20" height="16.90" fill="#f7f7f7"/>
<g clip-path="url(#c12)"><g filter="url(#bl2)">
<rect x="216.05" y="506.63" width="15.50" height="5.93" rx="2.97" fill="#000" fill-opacity="0.97" transform="rotate(8 223.80 509.60)"/>
<rect x="232.75" y="509.88" width="15.50" height="5.44" rx="2.72" fill="#000" fill-opacity="0.75" transform="rotate(4 240.50 512.60)"/>
<rect x="248.25" y="510.88" width="15.50" height="5.44" rx="2.72" fill="#000" fill-opacity="0.75"/>
<rect x="263.75" y="510.94" width="15.50" height="5.32" rx="2.66" fill="#000" fill-opacity="0.70" transform="rotate(-2 271.50 513.60)"/>
<rect x="279.25" y="510.29" width="15.50" height="5.21" rx="2.61" fill="#000" fill-opacity="0.65" transform="rotate(-4 287.00 512.90)"/>
</g></g>
<rect x="213.80" y="503.60" width="84.20" height="16.90" fill="none" stroke="#111" stroke-width="0.9"/>
<text x="15.50" y="465.80" font-size="7.0" text-anchor="start" font-weight="normal" fill="#111" stroke="#111" stroke-width="0.22" >kDa</text>
<text x="29.50" y="479.80" font-size="7.0" text-anchor="end" font-weight="normal" fill="#111" stroke="#111" stroke-width="0.22" >70</text>
<line x1="32.00" y1="477.50" x2="37.70" y2="477.50" stroke="#111" stroke-width="0.9" />
<text x="29.50" y="500.60" font-size="7.0" text-anchor="end" font-weight="normal" fill="#111" stroke="#111" stroke-width="0.22" >70</text>
<line x1="32.00" y1="498.30" x2="37.70" y2="498.30" stroke="#111" stroke-width="0.9" />
<text x="29.50" y="511.10" font-size="7.0" text-anchor="end" font-weight="normal" fill="#111" stroke="#111" stroke-width="0.22" >40</text>
<line x1="32.00" y1="506.80" x2="37.70" y2="506.80" stroke="#111" stroke-width="0.9" />
<text x="300.80" y="477.80" font-size="8.85" text-anchor="start" font-weight="normal" fill="#111" stroke="#111" stroke-width="0.22" >p-PFKL S775</text>
<text x="300.80" y="499.50" font-size="8.85" text-anchor="start" font-weight="normal" fill="#111" stroke="#111" stroke-width="0.22" >PFKL</text>
<text x="300.80" y="516.50" font-size="8.85" text-anchor="start" font-weight="normal" fill="#111" stroke="#111" stroke-width="0.22" >β-actin</text>
<text x="512.00" y="418.80" font-size="10.1" text-anchor="start" font-weight="normal" fill="#111" stroke="#111" stroke-width="0.22" >mBMDM</text>
<text x="410.50" y="456.30" font-size="8.7" text-anchor="middle" font-weight="normal" fill="#111" stroke="#111" stroke-width="0.22" >Ø</text>
<text transform="translate(431.90,457.10) rotate(-45)" font-size="9.0" text-anchor="middle" fill="#111" stroke="#111" stroke-width="0.22">15</text>
<text transform="translate(448.90,457.10) rotate(-45)" font-size="9.0" text-anchor="middle" fill="#111" stroke="#111" stroke-width="0.22">30</text>
<text transform="translate(466.40,457.10) rotate(-45)" font-size="9.0" text-anchor="middle" fill="#111" stroke="#111" stroke-width="0.22">60</text>
<text transform="translate(483.90,457.10) rotate(-45)" font-size="9.0" text-anchor="middle" fill="#111" stroke="#111" stroke-width="0.22">120</text>
<text transform="translate(501.40,457.10) rotate(-45)" font-size="9.0" text-anchor="middle" fill="#111" stroke="#111" stroke-width="0.22">180</text>
<text transform="translate(518.90,457.10) rotate(-45)" font-size="9.0" text-anchor="middle" fill="#111" stroke="#111" stroke-width="0.22">240</text>
<text x="534.00" y="456.30" font-size="8.7" text-anchor="middle" font-weight="normal" fill="#111" stroke="#111" stroke-width="0.22" >Ø</text>
<text transform="translate(554.70,457.10) rotate(-45)" font-size="9.0" text-anchor="middle" fill="#111" stroke="#111" stroke-width="0.22">5</text>
<text transform="translate(571.40,457.10) rotate(-45)" font-size="9.0" text-anchor="middle" fill="#111" stroke="#111" stroke-width="0.22">15</text>
<text transform="translate(588.40,457.10) rotate(-45)" font-size="9.0" text-anchor="middle" fill="#111" stroke="#111" stroke-width="0.22">30</text>
<text transform="translate(605.90,457.10) rotate(-45)" font-size="9.0" text-anchor="middle" fill="#111" stroke="#111" stroke-width="0.22">60</text>
<text transform="translate(625.90,457.10) rotate(-45)" font-size="9.0" text-anchor="middle" fill="#111" stroke="#111" stroke-width="0.22">120</text>
<text x="637.80" y="453.30" font-size="8.7" text-anchor="start" font-weight="normal" fill="#111" stroke="#111" stroke-width="0.22" >[min]</text>
<text x="474.30" y="435.30" font-size="10" text-anchor="middle" font-weight="normal" fill="#111" stroke="#111" stroke-width="0.22" >Zymosan</text>
<line x1="426.30" y1="441.50" x2="521.30" y2="441.50" stroke="#333" stroke-width="0.8" />
<text x="585.80" y="435.30" font-size="10" text-anchor="middle" font-weight="normal" fill="#111" stroke="#111" stroke-width="0.22" >TNF</text>
<line x1="546.50" y1="441.50" x2="629.50" y2="441.50" stroke="#333" stroke-width="0.8" />
<clipPath id="c13"><rect x="399.90" y="461.20" width="121.80" height="17.00"/></clipPath>
<rect x="399.90" y="461.20" width="121.80" height="17.00" fill="#f7f7f7"/>
<g clip-path="url(#c13)"><g filter="url(#hz)">
<rect x="454.85" y="463.20" width="13.50" height="7.30" fill="#000" fill-opacity="0.03"/>
<rect x="471.85" y="463.20" width="13.50" height="7.30" fill="#000" fill-opacity="0.05"/>
<rect x="488.65" y="463.20" width="13.50" height="7.30" fill="#000" fill-opacity="0.06"/>
<rect x="505.45" y="463.20" width="13.50" height="7.30" fill="#000" fill-opacity="0.05"/>
</g></g>
<g clip-path="url(#c13)"><g filter="url(#bl)">
<path d="M402.43,469.60 Q408.40,470.20 414.37,469.60" fill="none" stroke="#000" stroke-width="1.55" stroke-linecap="round" stroke-opacity="0.06"/>
<path d="M421.51,470.70 Q427.40,471.30 433.29,470.70" fill="none" stroke="#000" stroke-width="1.73" stroke-linecap="round" stroke-opacity="0.25" transform="rotate(-3 427.40 470.90)"/>
<path d="M437.97,470.80 Q443.80,471.40 449.63,470.80" fill="none" stroke="#000" stroke-width="1.84" stroke-linecap="round" stroke-opacity="0.38" transform="rotate(-3 443.80 471.00)"/>
<path d="M455.85,470.80 Q461.60,471.40 467.35,470.80" fill="none" stroke="#000" stroke-width="2.00" stroke-linecap="round" stroke-opacity="0.55" transform="rotate(-3 461.60 471.00)"/>
<path d="M472.98,471.10 Q478.60,471.70 484.22,471.10" fill="none" stroke="#000" stroke-width="2.27" stroke-linecap="round" stroke-opacity="0.85" transform="rotate(4 478.60 471.30)"/>
<path d="M489.83,471.50 Q495.40,472.10 500.97,471.50" fill="none" stroke="#000" stroke-width="2.35" stroke-linecap="round" stroke-opacity="0.95" transform="rotate(-8 495.40 471.70)"/>
<path d="M506.56,468.80 Q512.20,469.40 517.84,468.80" fill="none" stroke="#000" stroke-width="2.22" stroke-linecap="round" stroke-opacity="0.80" transform="rotate(-8 512.20 469.00)"/>
</g></g>
<rect x="399.90" y="461.20" width="121.80" height="17.00" fill="none" stroke="#111" stroke-width="0.9"/>
<clipPath id="c14"><rect x="399.90" y="481.30" width="121.80" height="17.30"/></clipPath>
<rect x="399.90" y="481.30" width="121.80" height="17.30" fill="#f2f2f2"/>
<g clip-path="url(#c14)"><g filter="url(#bl)">
<path d="M402.67,489.70 Q408.40,490.30 414.13,489.70" fill="none" stroke="#000" stroke-width="2.04" stroke-linecap="round" stroke-opacity="0.60"/>
<path d="M421.76,489.70 Q427.40,490.30 433.04,489.70" fill="none" stroke="#000" stroke-width="2.22" stroke-linecap="round" stroke-opacity="0.80"/>
<path d="M438.18,489.70 Q443.80,490.30 449.42,489.70" fill="none" stroke="#000" stroke-width="2.27" stroke-linecap="round" stroke-opacity="0.85"/>
<path d="M455.94,489.70 Q461.60,490.30 467.26,489.70" fill="none" stroke="#000" stroke-width="2.17" stroke-linecap="round" stroke-opacity="0.75"/>
<path d="M472.96,489.70 Q478.60,490.30 484.24,489.70" fill="none" stroke="#000" stroke-width="2.22" stroke-linecap="round" stroke-opacity="0.80"/>
<path d="M489.68,489.70 Q495.40,490.30 501.12,489.70" fill="none" stroke="#000" stroke-width="2.06" stroke-linecap="round" stroke-opacity="0.62"/>
<path d="M506.38,489.70 Q512.20,490.30 518.02,489.70" fill="none" stroke="#000" stroke-width="1.86" stroke-linecap="round" stroke-opacity="0.40"/>
</g></g>
<rect x="399.90" y="481.30" width="121.80" height="17.30" fill="none" stroke="#111" stroke-width="0.9"/>
<clipPath id="c15"><rect x="399.90" y="501.40" width="121.80" height="17.70"/></clipPath>
<rect x="399.90" y="501.40" width="121.80" height="17.70" fill="#f4f4f4"/>
<g clip-path="url(#c15)"><g filter="url(#bl2)">
<rect x="399.15" y="507.50" width="18.50" height="4.80" rx="2.40" fill="#000" fill-opacity="1.00"/>
<rect x="418.15" y="508.60" width="18.50" height="4.80" rx="2.40" fill="#000" fill-opacity="1.00"/>
<rect x="434.55" y="508.40" width="18.50" height="4.80" rx="2.40" fill="#000" fill-opacity="1.00"/>
<rect x="452.35" y="508.10" width="18.50" height="4.80" rx="2.40" fill="#000" fill-opacity="1.00"/>
<rect x="469.35" y="509.10" width="18.50" height="4.80" rx="2.40" fill="#000" fill-opacity="1.00"/>
<rect x="486.15" y="508.40" width="18.50" height="4.80" rx="2.40" fill="#000" fill-opacity="1.00"/>
<rect x="502.95" y="507.00" width="18.50" height="4.80" rx="2.40" fill="#000" fill-opacity="1.00"/>
</g></g>
<rect x="399.90" y="501.40" width="121.80" height="17.70" fill="none" stroke="#111" stroke-width="0.9"/>
<clipPath id="c16"><rect x="523.30" y="461.20" width="105.30" height="17.00"/></clipPath>
<rect x="523.30" y="461.20" width="105.30" height="17.00" fill="#f7f7f7"/>
<g clip-path="url(#c16)"><g filter="url(#hz)">
<rect x="562.15" y="463.20" width="13.50" height="7.10" fill="#000" fill-opacity="0.05"/>
<rect x="579.15" y="463.20" width="13.50" height="7.10" fill="#000" fill-opacity="0.05"/>
</g></g>
<g clip-path="url(#c16)"><g filter="url(#bl)">
<path d="M526.23,468.20 Q532.20,468.80 538.17,468.20" fill="none" stroke="#000" stroke-width="1.55" stroke-linecap="round" stroke-opacity="0.06"/>
<path d="M544.69,468.60 Q550.60,469.20 556.51,468.60" fill="none" stroke="#000" stroke-width="1.68" stroke-linecap="round" stroke-opacity="0.20"/>
<path d="M563.31,470.10 Q568.90,470.70 574.49,470.10" fill="none" stroke="#000" stroke-width="2.33" stroke-linecap="round" stroke-opacity="0.92"/>
<path d="M580.34,469.80 Q585.90,470.40 591.46,469.80" fill="none" stroke="#000" stroke-width="2.37" stroke-linecap="round" stroke-opacity="0.97"/>
<path d="M596.53,468.60 Q602.40,469.20 608.27,468.60" fill="none" stroke="#000" stroke-width="1.75" stroke-linecap="round" stroke-opacity="0.28"/>
<path d="M614.56,468.20 Q620.50,468.80 626.44,468.20" fill="none" stroke="#000" stroke-width="1.63" stroke-linecap="round" stroke-opacity="0.14"/>
</g></g>
<rect x="523.30" y="461.20" width="105.30" height="17.00" fill="none" stroke="#111" stroke-width="0.9"/>
<clipPath id="c17"><rect x="523.30" y="481.30" width="105.30" height="17.30"/></clipPath>
<rect x="523.30" y="481.30" width="105.30" height="17.30" fill="#f7f7f7"/>
<g clip-path="url(#c17)"><g filter="url(#bl)">
<path d="M526.64,490.10 Q532.20,490.70 537.76,490.10" fill="none" stroke="#000" stroke-width="2.37" stroke-linecap="round" stroke-opacity="0.97"/>
<path d="M545.00,490.40 Q550.60,491.00 556.20,490.40" fill="none" stroke="#000" stroke-width="2.29" stroke-linecap="round" stroke-opacity="0.88"/>
<path d="M563.35,490.10 Q568.90,490.70 574.45,490.10" fill="none" stroke="#000" stroke-width="2.40" stroke-linecap="round" stroke-opacity="1.00"/>
<path d="M580.31,490.10 Q585.90,490.70 591.49,490.10" fill="none" stroke="#000" stroke-width="2.33" stroke-linecap="round" stroke-opacity="0.92"/>
<path d="M596.74,488.90 Q602.40,489.50 608.06,488.90" fill="none" stroke="#000" stroke-width="2.17" stroke-linecap="round" stroke-opacity="0.75"/>
<path d="M614.82,488.50 Q620.50,489.10 626.18,488.50" fill="none" stroke="#000" stroke-width="2.13" stroke-linecap="round" stroke-opacity="0.70"/>
</g></g>
<rect x="523.30" y="481.30" width="105.30" height="17.30" fill="none" stroke="#111" stroke-width="0.9"/>
<clipPath id="c18"><rect x="523.30" y="501.40" width="105.30" height="17.70"/></clipPath>
<rect x="523.30" y="501.40" width="105.30" height="17.70" fill="#f7f7f7"/>
<g clip-path="url(#c18)"><g filter="url(#bl2)">
<rect x="524.45" y="506.61" width="15.50" height="4.58" rx="2.29" fill="#000" fill-opacity="0.88"/>
<rect x="542.85" y="509.10" width="15.50" height="4.80" rx="2.40" fill="#000" fill-opacity="1.00"/>
<rect x="561.15" y="508.74" width="15.50" height="4.53" rx="2.27" fill="#000" fill-opacity="0.85"/>
<rect x="578.15" y="507.67" width="15.50" height="4.66" rx="2.33" fill="#000" fill-opacity="0.92"/>
<rect x="594.65" y="507.21" width="15.50" height="4.58" rx="2.29" fill="#000" fill-opacity="0.88"/>
<rect x="612.75" y="506.76" width="15.50" height="4.48" rx="2.24" fill="#000" fill-opacity="0.82"/>
</g></g>
<rect x="523.30" y="501.40" width="105.30" height="17.70" fill="none" stroke="#111" stroke-width="0.9"/>
<text x="378.30" y="466.50" font-size="7.0" text-anchor="start" font-weight="normal" fill="#111" stroke="#111" stroke-width="0.22" >kDa</text>
<text x="390.00" y="478.60" font-size="7.0" text-anchor="end" font-weight="normal" fill="#111" stroke="#111" stroke-width="0.22" >70</text>
<line x1="393.00" y1="476.30" x2="399.90" y2="476.30" stroke="#111" stroke-width="0.9" />
<text x="390.00" y="498.10" font-size="7.0" text-anchor="end" font-weight="normal" fill="#111" stroke="#111" stroke-width="0.22" >70</text>
<line x1="393.00" y1="495.80" x2="399.90" y2="495.80" stroke="#111" stroke-width="0.9" />
<text x="390.00" y="512.60" font-size="7.0" text-anchor="end" font-weight="normal" fill="#111" stroke="#111" stroke-width="0.22" >40</text>
<line x1="393.00" y1="510.30" x2="399.90" y2="510.30" stroke="#111" stroke-width="0.9" />
<text x="632.00" y="473.30" font-size="9.0" text-anchor="start" font-weight="normal" fill="#111" stroke="#111" stroke-width="0.22" >p-PFKL S775</text>
<text x="632.00" y="495.00" font-size="9.0" text-anchor="start" font-weight="normal" fill="#111" stroke="#111" stroke-width="0.22" >PFKL</text>
<text x="632.00" y="511.50" font-size="9.0" text-anchor="start" font-weight="normal" fill="#111" stroke="#111" stroke-width="0.22" >β−actin</text></svg>
</body></html>
